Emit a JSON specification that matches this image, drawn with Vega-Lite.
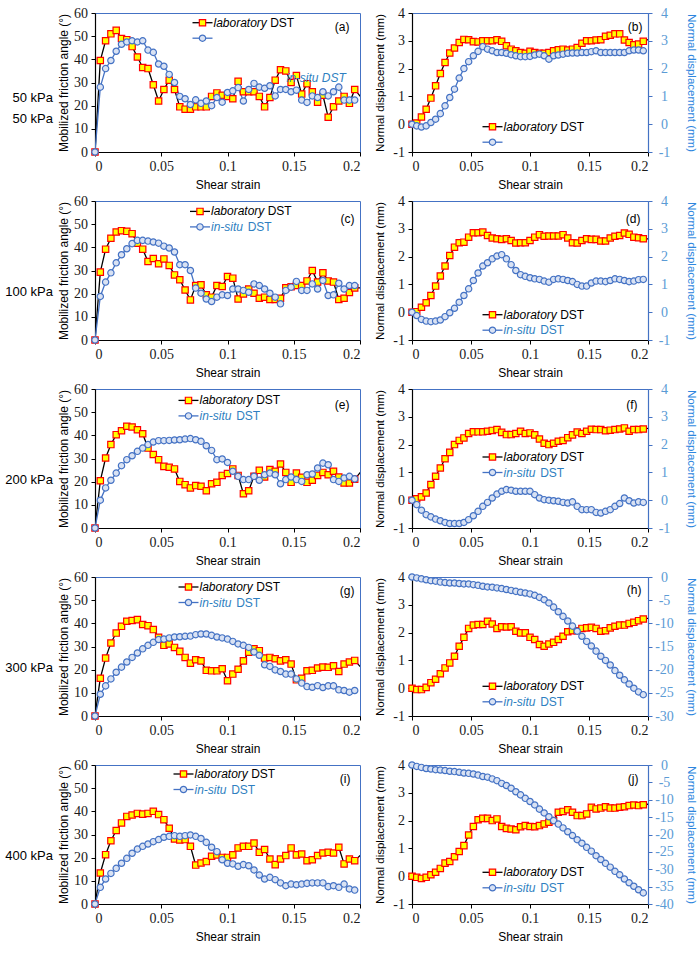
{
  "$schema": "https://vega.github.io/schema/vega-lite/v6.json",
  "background": "white",
  "padding": {"left": 5, "top": 5, "right": 2, "bottom": 2},
  "datasets": {
    "a": [
      {"x":0,"s":"lab","v":0},{"x":0.004,"s":"lab","v":39.5},{"x":0.008,"s":"lab","v":48},{"x":0.012,"s":"lab","v":51},{"x":0.016,"s":"lab","v":52.5},{"x":0.02,"s":"lab","v":49},{"x":0.024,"s":"lab","v":48.5},{"x":0.028,"s":"lab","v":45.5},{"x":0.032,"s":"lab","v":41},{"x":0.036,"s":"lab","v":36.5},
      {"x":0.04,"s":"lab","v":36},{"x":0.044,"s":"lab","v":29},{"x":0.048,"s":"lab","v":22},{"x":0.052,"s":"lab","v":27},{"x":0.056,"s":"lab","v":31},{"x":0.06,"s":"lab","v":27},{"x":0.064,"s":"lab","v":19.5},{"x":0.068,"s":"lab","v":18.5},{"x":0.072,"s":"lab","v":18.5},{"x":0.076,"s":"lab","v":19.5},
      {"x":0.08,"s":"lab","v":19.5},{"x":0.084,"s":"lab","v":19.5},{"x":0.088,"s":"lab","v":24},{"x":0.092,"s":"lab","v":25.5},{"x":0.096,"s":"lab","v":24.5},{"x":0.1,"s":"lab","v":24},{"x":0.104,"s":"lab","v":23},{"x":0.108,"s":"lab","v":30.5},{"x":0.112,"s":"lab","v":26},{"x":0.116,"s":"lab","v":26},
      {"x":0.12,"s":"lab","v":26},{"x":0.124,"s":"lab","v":24},{"x":0.128,"s":"lab","v":19.5},{"x":0.132,"s":"lab","v":23.5},{"x":0.136,"s":"lab","v":31},{"x":0.14,"s":"lab","v":35.5},{"x":0.144,"s":"lab","v":35},{"x":0.148,"s":"lab","v":30},{"x":0.152,"s":"lab","v":33},{"x":0.156,"s":"lab","v":25},
      {"x":0.16,"s":"lab","v":29.5},{"x":0.164,"s":"lab","v":26},{"x":0.168,"s":"lab","v":21.5},{"x":0.172,"s":"lab","v":24.5},{"x":0.176,"s":"lab","v":15},{"x":0.18,"s":"lab","v":19.5},{"x":0.184,"s":"lab","v":22},{"x":0.188,"s":"lab","v":24},{"x":0.192,"s":"lab","v":21},{"x":0.196,"s":"lab","v":27},{"x":0.203,"s":"lab","v":22},
      {"x":0,"s":"situ","v":0},{"x":0.004,"s":"situ","v":28},{"x":0.008,"s":"situ","v":36},{"x":0.012,"s":"situ","v":39.5},{"x":0.016,"s":"situ","v":43.5},{"x":0.02,"s":"situ","v":46.5},{"x":0.024,"s":"situ","v":47.5},{"x":0.028,"s":"situ","v":48},{"x":0.032,"s":"situ","v":47.5},{"x":0.036,"s":"situ","v":48},
      {"x":0.04,"s":"situ","v":44},{"x":0.044,"s":"situ","v":43},{"x":0.048,"s":"situ","v":38},{"x":0.052,"s":"situ","v":37},{"x":0.056,"s":"situ","v":33.5},{"x":0.06,"s":"situ","v":30},{"x":0.064,"s":"situ","v":24},{"x":0.068,"s":"situ","v":23},{"x":0.072,"s":"situ","v":20.5},{"x":0.076,"s":"situ","v":22.5},
      {"x":0.08,"s":"situ","v":21},{"x":0.084,"s":"situ","v":22},{"x":0.088,"s":"situ","v":20},{"x":0.092,"s":"situ","v":23.5},{"x":0.096,"s":"situ","v":21.5},{"x":0.1,"s":"situ","v":25.7},{"x":0.104,"s":"situ","v":26.4},{"x":0.108,"s":"situ","v":27.8},{"x":0.112,"s":"situ","v":22},{"x":0.116,"s":"situ","v":27},
      {"x":0.12,"s":"situ","v":29.6},{"x":0.124,"s":"situ","v":28},{"x":0.128,"s":"situ","v":27.5},{"x":0.132,"s":"situ","v":28.6},{"x":0.136,"s":"situ","v":24.2},{"x":0.14,"s":"situ","v":27},{"x":0.144,"s":"situ","v":27},{"x":0.148,"s":"situ","v":26},{"x":0.152,"s":"situ","v":26.7},{"x":0.156,"s":"situ","v":22.4},
      {"x":0.16,"s":"situ","v":21.4},{"x":0.164,"s":"situ","v":24.2},{"x":0.168,"s":"situ","v":23.5},{"x":0.172,"s":"situ","v":26},{"x":0.176,"s":"situ","v":24.2},{"x":0.18,"s":"situ","v":26},{"x":0.184,"s":"situ","v":28},{"x":0.188,"s":"situ","v":22.4},{"x":0.192,"s":"situ","v":22.4},{"x":0.196,"s":"situ","v":22.4}
    ],
    "b": [
      {"x":0,"s":"lab","v":0},{"x":0.004,"s":"lab","v":0.04},{"x":0.008,"s":"lab","v":0.26},{"x":0.012,"s":"lab","v":0.54},{"x":0.016,"s":"lab","v":0.94},{"x":0.02,"s":"lab","v":1.38},{"x":0.024,"s":"lab","v":1.82},{"x":0.028,"s":"lab","v":2.22},{"x":0.032,"s":"lab","v":2.56},{"x":0.036,"s":"lab","v":2.74},
      {"x":0.04,"s":"lab","v":2.94},{"x":0.044,"s":"lab","v":3.05},{"x":0.048,"s":"lab","v":3.04},{"x":0.052,"s":"lab","v":2.97},{"x":0.056,"s":"lab","v":2.96},{"x":0.06,"s":"lab","v":3.0},{"x":0.064,"s":"lab","v":3.0},{"x":0.068,"s":"lab","v":3.0},{"x":0.072,"s":"lab","v":3.04},{"x":0.076,"s":"lab","v":2.98},
      {"x":0.08,"s":"lab","v":2.82},{"x":0.084,"s":"lab","v":2.7},{"x":0.088,"s":"lab","v":2.64},{"x":0.092,"s":"lab","v":2.58},{"x":0.096,"s":"lab","v":2.55},{"x":0.1,"s":"lab","v":2.62},{"x":0.104,"s":"lab","v":2.58},{"x":0.108,"s":"lab","v":2.55},{"x":0.112,"s":"lab","v":2.55},{"x":0.116,"s":"lab","v":2.58},
      {"x":0.12,"s":"lab","v":2.64},{"x":0.124,"s":"lab","v":2.68},{"x":0.128,"s":"lab","v":2.7},{"x":0.132,"s":"lab","v":2.67},{"x":0.136,"s":"lab","v":2.7},{"x":0.14,"s":"lab","v":2.76},{"x":0.144,"s":"lab","v":2.91},{"x":0.148,"s":"lab","v":3.0},{"x":0.152,"s":"lab","v":3.0},{"x":0.156,"s":"lab","v":3.03},
      {"x":0.16,"s":"lab","v":3.04},{"x":0.164,"s":"lab","v":3.16},{"x":0.168,"s":"lab","v":3.2},{"x":0.172,"s":"lab","v":3.25},{"x":0.176,"s":"lab","v":3.25},{"x":0.18,"s":"lab","v":3.03},{"x":0.184,"s":"lab","v":2.94},{"x":0.188,"s":"lab","v":2.86},{"x":0.192,"s":"lab","v":2.88},{"x":0.196,"s":"lab","v":2.98},{"x":0.203,"s":"lab","v":3.09},
      {"x":0,"s":"situ","v":0},{"x":0.004,"s":"situ","v":-0.06},{"x":0.008,"s":"situ","v":-0.1},{"x":0.012,"s":"situ","v":-0.06},{"x":0.016,"s":"situ","v":0.06},{"x":0.02,"s":"situ","v":0.18},{"x":0.024,"s":"situ","v":0.38},{"x":0.028,"s":"situ","v":0.66},{"x":0.032,"s":"situ","v":0.96},{"x":0.036,"s":"situ","v":1.26},
      {"x":0.04,"s":"situ","v":1.66},{"x":0.044,"s":"situ","v":2.0},{"x":0.048,"s":"situ","v":2.25},{"x":0.052,"s":"situ","v":2.46},{"x":0.056,"s":"situ","v":2.62},{"x":0.06,"s":"situ","v":2.79},{"x":0.064,"s":"situ","v":2.7},{"x":0.068,"s":"situ","v":2.64},{"x":0.072,"s":"situ","v":2.58},{"x":0.076,"s":"situ","v":2.58},
      {"x":0.08,"s":"situ","v":2.55},{"x":0.084,"s":"situ","v":2.5},{"x":0.088,"s":"situ","v":2.46},{"x":0.092,"s":"situ","v":2.43},{"x":0.096,"s":"situ","v":2.43},{"x":0.1,"s":"situ","v":2.44},{"x":0.104,"s":"situ","v":2.49},{"x":0.108,"s":"situ","v":2.52},{"x":0.112,"s":"situ","v":2.46},{"x":0.116,"s":"situ","v":2.34},
      {"x":0.12,"s":"situ","v":2.46},{"x":0.124,"s":"situ","v":2.49},{"x":0.128,"s":"situ","v":2.52},{"x":0.132,"s":"situ","v":2.55},{"x":0.136,"s":"situ","v":2.56},{"x":0.14,"s":"situ","v":2.56},{"x":0.144,"s":"situ","v":2.58},{"x":0.148,"s":"situ","v":2.58},{"x":0.152,"s":"situ","v":2.61},{"x":0.156,"s":"situ","v":2.64},
      {"x":0.16,"s":"situ","v":2.58},{"x":0.164,"s":"situ","v":2.58},{"x":0.168,"s":"situ","v":2.58},{"x":0.172,"s":"situ","v":2.58},{"x":0.176,"s":"situ","v":2.58},{"x":0.18,"s":"situ","v":2.58},{"x":0.184,"s":"situ","v":2.64},{"x":0.188,"s":"situ","v":2.67},{"x":0.192,"s":"situ","v":2.67},{"x":0.196,"s":"situ","v":2.64}
    ],
    "c": [
      {"x":0,"s":"lab","v":0},{"x":0.004,"s":"lab","v":29.3},{"x":0.008,"s":"lab","v":39.2},{"x":0.012,"s":"lab","v":43.9},{"x":0.016,"s":"lab","v":46.6},{"x":0.02,"s":"lab","v":47.2},{"x":0.024,"s":"lab","v":46.9},{"x":0.028,"s":"lab","v":45.9},{"x":0.032,"s":"lab","v":41.8},{"x":0.036,"s":"lab","v":39.2},
      {"x":0.04,"s":"lab","v":33.9},{"x":0.044,"s":"lab","v":35.2},{"x":0.048,"s":"lab","v":32.9},{"x":0.052,"s":"lab","v":35},{"x":0.056,"s":"lab","v":32.2},{"x":0.06,"s":"lab","v":28.1},{"x":0.064,"s":"lab","v":26},{"x":0.068,"s":"lab","v":21.6},{"x":0.072,"s":"lab","v":17.3},{"x":0.076,"s":"lab","v":23.5},
      {"x":0.08,"s":"lab","v":23.8},{"x":0.084,"s":"lab","v":19.5},{"x":0.088,"s":"lab","v":18.5},{"x":0.092,"s":"lab","v":23.5},{"x":0.096,"s":"lab","v":23.1},{"x":0.1,"s":"lab","v":27.4},{"x":0.104,"s":"lab","v":26.7},{"x":0.108,"s":"lab","v":17.7},{"x":0.112,"s":"lab","v":19.9},{"x":0.116,"s":"lab","v":22},
      {"x":0.12,"s":"lab","v":20.2},{"x":0.124,"s":"lab","v":18},{"x":0.128,"s":"lab","v":18.5},{"x":0.132,"s":"lab","v":17.5},{"x":0.136,"s":"lab","v":17.5},{"x":0.14,"s":"lab","v":18},{"x":0.144,"s":"lab","v":22.5},{"x":0.148,"s":"lab","v":23},{"x":0.152,"s":"lab","v":23.5},{"x":0.156,"s":"lab","v":23.5},
      {"x":0.16,"s":"lab","v":25.5},{"x":0.164,"s":"lab","v":30},{"x":0.168,"s":"lab","v":25},{"x":0.172,"s":"lab","v":29},{"x":0.176,"s":"lab","v":25.5},{"x":0.18,"s":"lab","v":25},{"x":0.184,"s":"lab","v":17.5},{"x":0.188,"s":"lab","v":18},{"x":0.192,"s":"lab","v":20.5},{"x":0.196,"s":"lab","v":22.5},{"x":0.203,"s":"lab","v":22.5},
      {"x":0,"s":"situ","v":0},{"x":0.004,"s":"situ","v":18.8},{"x":0.008,"s":"situ","v":25},{"x":0.012,"s":"situ","v":29},{"x":0.016,"s":"situ","v":33.3},{"x":0.02,"s":"situ","v":36.8},{"x":0.024,"s":"situ","v":39.4},{"x":0.028,"s":"situ","v":41.6},{"x":0.032,"s":"situ","v":43},{"x":0.036,"s":"situ","v":43},
      {"x":0.04,"s":"situ","v":42.7},{"x":0.044,"s":"situ","v":42.3},{"x":0.048,"s":"situ","v":41.8},{"x":0.052,"s":"situ","v":40.5},{"x":0.056,"s":"situ","v":39.7},{"x":0.06,"s":"situ","v":38},{"x":0.064,"s":"situ","v":32.5},{"x":0.068,"s":"situ","v":32.5},{"x":0.072,"s":"situ","v":30},{"x":0.076,"s":"situ","v":22.4},
      {"x":0.08,"s":"situ","v":20.2},{"x":0.084,"s":"situ","v":17.7},{"x":0.088,"s":"situ","v":16.6},{"x":0.092,"s":"situ","v":18.5},{"x":0.096,"s":"situ","v":19.5},{"x":0.1,"s":"situ","v":19.2},{"x":0.104,"s":"situ","v":22},{"x":0.108,"s":"situ","v":22},{"x":0.112,"s":"situ","v":21.4},{"x":0.116,"s":"situ","v":20.6},
      {"x":0.12,"s":"situ","v":24.2},{"x":0.124,"s":"situ","v":23.5},{"x":0.128,"s":"situ","v":22},{"x":0.132,"s":"situ","v":20.2},{"x":0.136,"s":"situ","v":18.5},{"x":0.14,"s":"situ","v":15.6},{"x":0.144,"s":"situ","v":21.4},{"x":0.148,"s":"situ","v":22.8},{"x":0.152,"s":"situ","v":25.3},{"x":0.156,"s":"situ","v":21.4},
      {"x":0.16,"s":"situ","v":21.4},{"x":0.164,"s":"situ","v":24.2},{"x":0.168,"s":"situ","v":22},{"x":0.172,"s":"situ","v":25.7},{"x":0.176,"s":"situ","v":19.2},{"x":0.18,"s":"situ","v":19.5},{"x":0.184,"s":"situ","v":24.5},{"x":0.188,"s":"situ","v":22},{"x":0.192,"s":"situ","v":23.5},{"x":0.196,"s":"situ","v":23.5}
    ],
    "d": [
      {"x":0,"s":"lab","v":0},{"x":0.004,"s":"lab","v":0.02},{"x":0.008,"s":"lab","v":0.18},{"x":0.012,"s":"lab","v":0.34},{"x":0.016,"s":"lab","v":0.6},{"x":0.02,"s":"lab","v":0.94},{"x":0.024,"s":"lab","v":1.3},{"x":0.028,"s":"lab","v":1.66},{"x":0.032,"s":"lab","v":2.04},{"x":0.036,"s":"lab","v":2.34},
      {"x":0.04,"s":"lab","v":2.5},{"x":0.044,"s":"lab","v":2.52},{"x":0.048,"s":"lab","v":2.7},{"x":0.052,"s":"lab","v":2.86},{"x":0.056,"s":"lab","v":2.86},{"x":0.06,"s":"lab","v":2.88},{"x":0.064,"s":"lab","v":2.76},{"x":0.068,"s":"lab","v":2.67},{"x":0.072,"s":"lab","v":2.64},{"x":0.076,"s":"lab","v":2.62},
      {"x":0.08,"s":"lab","v":2.64},{"x":0.084,"s":"lab","v":2.58},{"x":0.088,"s":"lab","v":2.49},{"x":0.092,"s":"lab","v":2.5},{"x":0.096,"s":"lab","v":2.5},{"x":0.1,"s":"lab","v":2.58},{"x":0.104,"s":"lab","v":2.7},{"x":0.108,"s":"lab","v":2.79},{"x":0.112,"s":"lab","v":2.73},{"x":0.116,"s":"lab","v":2.74},
      {"x":0.12,"s":"lab","v":2.74},{"x":0.124,"s":"lab","v":2.74},{"x":0.128,"s":"lab","v":2.79},{"x":0.132,"s":"lab","v":2.67},{"x":0.136,"s":"lab","v":2.5},{"x":0.14,"s":"lab","v":2.49},{"x":0.144,"s":"lab","v":2.58},{"x":0.148,"s":"lab","v":2.64},{"x":0.152,"s":"lab","v":2.62},{"x":0.156,"s":"lab","v":2.62},
      {"x":0.16,"s":"lab","v":2.56},{"x":0.164,"s":"lab","v":2.56},{"x":0.168,"s":"lab","v":2.67},{"x":0.172,"s":"lab","v":2.73},{"x":0.176,"s":"lab","v":2.76},{"x":0.18,"s":"lab","v":2.85},{"x":0.184,"s":"lab","v":2.8},{"x":0.188,"s":"lab","v":2.7},{"x":0.192,"s":"lab","v":2.68},{"x":0.196,"s":"lab","v":2.64},{"x":0.203,"s":"lab","v":2.63},
      {"x":0,"s":"situ","v":0},{"x":0.004,"s":"situ","v":-0.12},{"x":0.008,"s":"situ","v":-0.26},{"x":0.012,"s":"situ","v":-0.32},{"x":0.016,"s":"situ","v":-0.34},{"x":0.02,"s":"situ","v":-0.32},{"x":0.024,"s":"situ","v":-0.28},{"x":0.028,"s":"situ","v":-0.16},{"x":0.032,"s":"situ","v":-0.02},{"x":0.036,"s":"situ","v":0.14},
      {"x":0.04,"s":"situ","v":0.36},{"x":0.044,"s":"situ","v":0.6},{"x":0.048,"s":"situ","v":0.84},{"x":0.052,"s":"situ","v":1.14},{"x":0.056,"s":"situ","v":1.41},{"x":0.06,"s":"situ","v":1.66},{"x":0.064,"s":"situ","v":1.78},{"x":0.068,"s":"situ","v":1.92},{"x":0.072,"s":"situ","v":2.02},{"x":0.076,"s":"situ","v":2.07},
      {"x":0.08,"s":"situ","v":1.92},{"x":0.084,"s":"situ","v":1.71},{"x":0.088,"s":"situ","v":1.5},{"x":0.092,"s":"situ","v":1.35},{"x":0.096,"s":"situ","v":1.29},{"x":0.1,"s":"situ","v":1.24},{"x":0.104,"s":"situ","v":1.2},{"x":0.108,"s":"situ","v":1.18},{"x":0.112,"s":"situ","v":1.12},{"x":0.116,"s":"situ","v":1.08},
      {"x":0.12,"s":"situ","v":1.18},{"x":0.124,"s":"situ","v":1.2},{"x":0.128,"s":"situ","v":1.18},{"x":0.132,"s":"situ","v":1.14},{"x":0.136,"s":"situ","v":1.1},{"x":0.14,"s":"situ","v":1.0},{"x":0.144,"s":"situ","v":0.94},{"x":0.148,"s":"situ","v":0.94},{"x":0.152,"s":"situ","v":1.05},{"x":0.156,"s":"situ","v":1.12},
      {"x":0.16,"s":"situ","v":1.12},{"x":0.164,"s":"situ","v":1.1},{"x":0.168,"s":"situ","v":1.14},{"x":0.172,"s":"situ","v":1.2},{"x":0.176,"s":"situ","v":1.18},{"x":0.18,"s":"situ","v":1.14},{"x":0.184,"s":"situ","v":1.1},{"x":0.188,"s":"situ","v":1.12},{"x":0.192,"s":"situ","v":1.17},{"x":0.196,"s":"situ","v":1.18}
    ],
    "e": [
      {"x":0,"s":"lab","v":0},{"x":0.004,"s":"lab","v":20.4},{"x":0.008,"s":"lab","v":30.2},{"x":0.012,"s":"lab","v":36},{"x":0.016,"s":"lab","v":40.3},{"x":0.02,"s":"lab","v":42},{"x":0.024,"s":"lab","v":43.9},{"x":0.028,"s":"lab","v":43.6},{"x":0.032,"s":"lab","v":42.4},{"x":0.036,"s":"lab","v":40.7},
      {"x":0.04,"s":"lab","v":34.5},{"x":0.044,"s":"lab","v":31.7},{"x":0.048,"s":"lab","v":29.5},{"x":0.052,"s":"lab","v":26.6},{"x":0.056,"s":"lab","v":26.2},{"x":0.06,"s":"lab","v":25.5},{"x":0.064,"s":"lab","v":20.1},{"x":0.068,"s":"lab","v":18.7},{"x":0.072,"s":"lab","v":17.3},{"x":0.076,"s":"lab","v":18.3},
      {"x":0.08,"s":"lab","v":18},{"x":0.084,"s":"lab","v":16.1},{"x":0.088,"s":"lab","v":19.1},{"x":0.092,"s":"lab","v":19.7},{"x":0.096,"s":"lab","v":22.7},{"x":0.1,"s":"lab","v":23.5},{"x":0.104,"s":"lab","v":25.5},{"x":0.108,"s":"lab","v":22.7},{"x":0.112,"s":"lab","v":14.8},{"x":0.116,"s":"lab","v":16.1},
      {"x":0.12,"s":"lab","v":22.3},{"x":0.124,"s":"lab","v":24.9},{"x":0.128,"s":"lab","v":22},{"x":0.132,"s":"lab","v":25.2},{"x":0.136,"s":"lab","v":24.5},{"x":0.14,"s":"lab","v":27.6},{"x":0.144,"s":"lab","v":24},{"x":0.148,"s":"lab","v":19.7},{"x":0.152,"s":"lab","v":23.7},{"x":0.156,"s":"lab","v":21.9},
      {"x":0.16,"s":"lab","v":19.7},{"x":0.164,"s":"lab","v":20.6},{"x":0.168,"s":"lab","v":22.7},{"x":0.172,"s":"lab","v":24},{"x":0.176,"s":"lab","v":23},{"x":0.18,"s":"lab","v":24.5},{"x":0.184,"s":"lab","v":22},{"x":0.188,"s":"lab","v":19.4},{"x":0.192,"s":"lab","v":19.4},{"x":0.196,"s":"lab","v":21},{"x":0.203,"s":"lab","v":26},
      {"x":0,"s":"situ","v":0},{"x":0.004,"s":"situ","v":12},{"x":0.008,"s":"situ","v":17.3},{"x":0.012,"s":"situ","v":20.6},{"x":0.016,"s":"situ","v":23.7},{"x":0.02,"s":"situ","v":26.9},{"x":0.024,"s":"situ","v":29.5},{"x":0.028,"s":"situ","v":31.2},{"x":0.032,"s":"situ","v":33.1},{"x":0.036,"s":"situ","v":34.5},
      {"x":0.04,"s":"situ","v":36},{"x":0.044,"s":"situ","v":37.1},{"x":0.048,"s":"situ","v":37.7},{"x":0.052,"s":"situ","v":37.7},{"x":0.056,"s":"situ","v":37.8},{"x":0.06,"s":"situ","v":38},{"x":0.064,"s":"situ","v":38.1},{"x":0.068,"s":"situ","v":38.4},{"x":0.072,"s":"situ","v":38.6},{"x":0.076,"s":"situ","v":38.1},
      {"x":0.08,"s":"situ","v":37.4},{"x":0.084,"s":"situ","v":35.5},{"x":0.088,"s":"situ","v":33.5},{"x":0.092,"s":"situ","v":29.5},{"x":0.096,"s":"situ","v":29.8},{"x":0.1,"s":"situ","v":28.3},{"x":0.104,"s":"situ","v":24.5},{"x":0.108,"s":"situ","v":22.3},{"x":0.112,"s":"situ","v":20.9},{"x":0.116,"s":"situ","v":20.9},
      {"x":0.12,"s":"situ","v":22.3},{"x":0.124,"s":"situ","v":20.6},{"x":0.128,"s":"situ","v":23},{"x":0.132,"s":"situ","v":23.7},{"x":0.136,"s":"situ","v":23},{"x":0.14,"s":"situ","v":19.1},{"x":0.144,"s":"situ","v":20.9},{"x":0.148,"s":"situ","v":22},{"x":0.152,"s":"situ","v":20.9},{"x":0.156,"s":"situ","v":20.1},
      {"x":0.16,"s":"situ","v":23},{"x":0.164,"s":"situ","v":23.3},{"x":0.168,"s":"situ","v":25.9},{"x":0.172,"s":"situ","v":28},{"x":0.176,"s":"situ","v":27.3},{"x":0.18,"s":"situ","v":20.9},{"x":0.184,"s":"situ","v":20.1},{"x":0.188,"s":"situ","v":21.6},{"x":0.192,"s":"situ","v":22.3},{"x":0.196,"s":"situ","v":21.2}
    ],
    "f": [
      {"x":0,"s":"lab","v":0},{"x":0.004,"s":"lab","v":0.05},{"x":0.008,"s":"lab","v":0.12},{"x":0.012,"s":"lab","v":0.26},{"x":0.016,"s":"lab","v":0.56},{"x":0.02,"s":"lab","v":0.86},{"x":0.024,"s":"lab","v":1.16},{"x":0.028,"s":"lab","v":1.49},{"x":0.032,"s":"lab","v":1.72},{"x":0.036,"s":"lab","v":2.0},
      {"x":0.04,"s":"lab","v":2.15},{"x":0.044,"s":"lab","v":2.24},{"x":0.048,"s":"lab","v":2.4},{"x":0.052,"s":"lab","v":2.46},{"x":0.056,"s":"lab","v":2.46},{"x":0.06,"s":"lab","v":2.46},{"x":0.064,"s":"lab","v":2.48},{"x":0.068,"s":"lab","v":2.51},{"x":0.072,"s":"lab","v":2.54},{"x":0.076,"s":"lab","v":2.44},
      {"x":0.08,"s":"lab","v":2.36},{"x":0.084,"s":"lab","v":2.36},{"x":0.088,"s":"lab","v":2.4},{"x":0.092,"s":"lab","v":2.48},{"x":0.096,"s":"lab","v":2.4},{"x":0.1,"s":"lab","v":2.42},{"x":0.104,"s":"lab","v":2.35},{"x":0.108,"s":"lab","v":2.2},{"x":0.112,"s":"lab","v":2.05},{"x":0.116,"s":"lab","v":2.0},
      {"x":0.12,"s":"lab","v":2.05},{"x":0.124,"s":"lab","v":2.12},{"x":0.128,"s":"lab","v":2.15},{"x":0.132,"s":"lab","v":2.25},{"x":0.136,"s":"lab","v":2.35},{"x":0.14,"s":"lab","v":2.45},{"x":0.144,"s":"lab","v":2.4},{"x":0.148,"s":"lab","v":2.48},{"x":0.152,"s":"lab","v":2.55},{"x":0.156,"s":"lab","v":2.54},
      {"x":0.16,"s":"lab","v":2.54},{"x":0.164,"s":"lab","v":2.5},{"x":0.168,"s":"lab","v":2.52},{"x":0.172,"s":"lab","v":2.54},{"x":0.176,"s":"lab","v":2.56},{"x":0.18,"s":"lab","v":2.6},{"x":0.184,"s":"lab","v":2.48},{"x":0.188,"s":"lab","v":2.54},{"x":0.192,"s":"lab","v":2.54},{"x":0.196,"s":"lab","v":2.56},{"x":0.203,"s":"lab","v":2.6},
      {"x":0,"s":"situ","v":0},{"x":0.004,"s":"situ","v":-0.16},{"x":0.008,"s":"situ","v":-0.36},{"x":0.012,"s":"situ","v":-0.52},{"x":0.016,"s":"situ","v":-0.6},{"x":0.02,"s":"situ","v":-0.68},{"x":0.024,"s":"situ","v":-0.74},{"x":0.028,"s":"situ","v":-0.8},{"x":0.032,"s":"situ","v":-0.84},{"x":0.036,"s":"situ","v":-0.84},
      {"x":0.04,"s":"situ","v":-0.84},{"x":0.044,"s":"situ","v":-0.8},{"x":0.048,"s":"situ","v":-0.7},{"x":0.052,"s":"situ","v":-0.56},{"x":0.056,"s":"situ","v":-0.4},{"x":0.06,"s":"situ","v":-0.22},{"x":0.064,"s":"situ","v":-0.08},{"x":0.068,"s":"situ","v":0.08},{"x":0.072,"s":"situ","v":0.22},{"x":0.076,"s":"situ","v":0.32},
      {"x":0.08,"s":"situ","v":0.38},{"x":0.084,"s":"situ","v":0.36},{"x":0.088,"s":"situ","v":0.32},{"x":0.092,"s":"situ","v":0.32},{"x":0.096,"s":"situ","v":0.32},{"x":0.1,"s":"situ","v":0.32},{"x":0.104,"s":"situ","v":0.2},{"x":0.108,"s":"situ","v":0.08},{"x":0.112,"s":"situ","v":0.02},{"x":0.116,"s":"situ","v":0},
      {"x":0.12,"s":"situ","v":-0.02},{"x":0.124,"s":"situ","v":-0.04},{"x":0.128,"s":"situ","v":-0.08},{"x":0.132,"s":"situ","v":-0.1},{"x":0.136,"s":"situ","v":-0.06},{"x":0.14,"s":"situ","v":-0.22},{"x":0.144,"s":"situ","v":-0.34},{"x":0.148,"s":"situ","v":-0.34},{"x":0.152,"s":"situ","v":-0.34},{"x":0.156,"s":"situ","v":-0.44},
      {"x":0.16,"s":"situ","v":-0.46},{"x":0.164,"s":"situ","v":-0.4},{"x":0.168,"s":"situ","v":-0.34},{"x":0.172,"s":"situ","v":-0.22},{"x":0.176,"s":"situ","v":-0.12},{"x":0.18,"s":"situ","v":0.08},{"x":0.184,"s":"situ","v":-0.02},{"x":0.188,"s":"situ","v":-0.1},{"x":0.192,"s":"situ","v":-0.06},{"x":0.196,"s":"situ","v":-0.08}
    ],
    "g": [
      {"x":0,"s":"lab","v":0},{"x":0.004,"s":"lab","v":16.3},{"x":0.008,"s":"lab","v":25},{"x":0.012,"s":"lab","v":31.5},{"x":0.016,"s":"lab","v":35.8},{"x":0.02,"s":"lab","v":38.7},{"x":0.024,"s":"lab","v":40.9},{"x":0.028,"s":"lab","v":41.2},{"x":0.032,"s":"lab","v":41.6},{"x":0.036,"s":"lab","v":39.5},
      {"x":0.04,"s":"lab","v":39},{"x":0.044,"s":"lab","v":37.3},{"x":0.048,"s":"lab","v":34},{"x":0.052,"s":"lab","v":30.5},{"x":0.056,"s":"lab","v":31.1},{"x":0.06,"s":"lab","v":29.6},{"x":0.064,"s":"lab","v":27.9},{"x":0.068,"s":"lab","v":25.3},{"x":0.072,"s":"lab","v":22.8},{"x":0.076,"s":"lab","v":24.3},
      {"x":0.08,"s":"lab","v":23.8},{"x":0.084,"s":"lab","v":19.7},{"x":0.088,"s":"lab","v":19.5},{"x":0.092,"s":"lab","v":19.5},{"x":0.096,"s":"lab","v":20.4},{"x":0.1,"s":"lab","v":15.2},{"x":0.104,"s":"lab","v":18.1},{"x":0.108,"s":"lab","v":20.2},{"x":0.112,"s":"lab","v":23.8},{"x":0.116,"s":"lab","v":27.5},
      {"x":0.12,"s":"lab","v":29},{"x":0.124,"s":"lab","v":28.2},{"x":0.128,"s":"lab","v":25},{"x":0.132,"s":"lab","v":25.3},{"x":0.136,"s":"lab","v":24.7},{"x":0.14,"s":"lab","v":23.8},{"x":0.144,"s":"lab","v":24.3},{"x":0.148,"s":"lab","v":22.4},{"x":0.152,"s":"lab","v":15.6},{"x":0.156,"s":"lab","v":16.3},
      {"x":0.16,"s":"lab","v":19.5},{"x":0.164,"s":"lab","v":19.7},{"x":0.168,"s":"lab","v":20.7},{"x":0.172,"s":"lab","v":21.1},{"x":0.176,"s":"lab","v":21},{"x":0.18,"s":"lab","v":21.7},{"x":0.184,"s":"lab","v":19.2},{"x":0.188,"s":"lab","v":22.4},{"x":0.192,"s":"lab","v":23.3},{"x":0.196,"s":"lab","v":24},{"x":0.203,"s":"lab","v":19.5},
      {"x":0,"s":"situ","v":0},{"x":0.004,"s":"situ","v":9.4},{"x":0.008,"s":"situ","v":13},{"x":0.012,"s":"situ","v":16},{"x":0.016,"s":"situ","v":18.9},{"x":0.02,"s":"situ","v":21.1},{"x":0.024,"s":"situ","v":23.3},{"x":0.028,"s":"situ","v":25.3},{"x":0.032,"s":"situ","v":27.2},{"x":0.036,"s":"situ","v":29},
      {"x":0.04,"s":"situ","v":30.5},{"x":0.044,"s":"situ","v":31.8},{"x":0.048,"s":"situ","v":33},{"x":0.052,"s":"situ","v":33.2},{"x":0.056,"s":"situ","v":33.7},{"x":0.06,"s":"situ","v":34.1},{"x":0.064,"s":"situ","v":34.2},{"x":0.068,"s":"situ","v":34.4},{"x":0.072,"s":"situ","v":34.5},{"x":0.076,"s":"situ","v":35.1},
      {"x":0.08,"s":"situ","v":35.4},{"x":0.084,"s":"situ","v":35.4},{"x":0.088,"s":"situ","v":34.8},{"x":0.092,"s":"situ","v":34.1},{"x":0.096,"s":"situ","v":33.7},{"x":0.1,"s":"situ","v":33.2},{"x":0.104,"s":"situ","v":32.2},{"x":0.108,"s":"situ","v":31.1},{"x":0.112,"s":"situ","v":30.5},{"x":0.116,"s":"situ","v":29.6},
      {"x":0.12,"s":"situ","v":27.6},{"x":0.124,"s":"situ","v":26.2},{"x":0.128,"s":"situ","v":22.1},{"x":0.132,"s":"situ","v":21.4},{"x":0.136,"s":"situ","v":19.9},{"x":0.14,"s":"situ","v":19.2},{"x":0.144,"s":"situ","v":18.1},{"x":0.148,"s":"situ","v":18.1},{"x":0.152,"s":"situ","v":16},{"x":0.156,"s":"situ","v":14.2},
      {"x":0.16,"s":"situ","v":12.7},{"x":0.164,"s":"situ","v":12.4},{"x":0.168,"s":"situ","v":13.1},{"x":0.172,"s":"situ","v":12.3},{"x":0.176,"s":"situ","v":13},{"x":0.18,"s":"situ","v":13},{"x":0.184,"s":"situ","v":11.3},{"x":0.188,"s":"situ","v":11},{"x":0.192,"s":"situ","v":10.3},{"x":0.196,"s":"situ","v":11}
    ],
    "h": [
      {"x":0,"s":"lab","v":0},{"x":0.004,"s":"lab","v":-0.05},{"x":0.008,"s":"lab","v":-0.05},{"x":0.012,"s":"lab","v":0.03},{"x":0.016,"s":"lab","v":0.2},{"x":0.02,"s":"lab","v":0.32},{"x":0.024,"s":"lab","v":0.52},{"x":0.028,"s":"lab","v":0.73},{"x":0.032,"s":"lab","v":0.91},{"x":0.036,"s":"lab","v":1.15},
      {"x":0.04,"s":"lab","v":1.51},{"x":0.044,"s":"lab","v":1.83},{"x":0.048,"s":"lab","v":2.15},{"x":0.052,"s":"lab","v":2.27},{"x":0.056,"s":"lab","v":2.29},{"x":0.06,"s":"lab","v":2.29},{"x":0.064,"s":"lab","v":2.41},{"x":0.068,"s":"lab","v":2.31},{"x":0.072,"s":"lab","v":2.15},{"x":0.076,"s":"lab","v":2.21},
      {"x":0.08,"s":"lab","v":2.2},{"x":0.084,"s":"lab","v":2.21},{"x":0.088,"s":"lab","v":2.05},{"x":0.092,"s":"lab","v":1.99},{"x":0.096,"s":"lab","v":1.99},{"x":0.1,"s":"lab","v":1.83},{"x":0.104,"s":"lab","v":1.75},{"x":0.108,"s":"lab","v":1.57},{"x":0.112,"s":"lab","v":1.51},{"x":0.116,"s":"lab","v":1.59},
      {"x":0.12,"s":"lab","v":1.65},{"x":0.124,"s":"lab","v":1.75},{"x":0.128,"s":"lab","v":1.87},{"x":0.132,"s":"lab","v":2.03},{"x":0.136,"s":"lab","v":2.07},{"x":0.14,"s":"lab","v":2.07},{"x":0.144,"s":"lab","v":2.15},{"x":0.148,"s":"lab","v":2.17},{"x":0.152,"s":"lab","v":2.19},{"x":0.156,"s":"lab","v":2.15},
      {"x":0.16,"s":"lab","v":2.05},{"x":0.164,"s":"lab","v":2.07},{"x":0.168,"s":"lab","v":2.17},{"x":0.172,"s":"lab","v":2.23},{"x":0.176,"s":"lab","v":2.27},{"x":0.18,"s":"lab","v":2.27},{"x":0.184,"s":"lab","v":2.33},{"x":0.188,"s":"lab","v":2.37},{"x":0.192,"s":"lab","v":2.43},{"x":0.196,"s":"lab","v":2.49},{"x":0.203,"s":"lab","v":2.53},
      {"x":0,"s":"situ","v":0},{"x":0.004,"s":"situ","v":-0.2},{"x":0.008,"s":"situ","v":-0.4},{"x":0.012,"s":"situ","v":-0.6},{"x":0.016,"s":"situ","v":-0.8},{"x":0.02,"s":"situ","v":-0.9},{"x":0.024,"s":"situ","v":-1.1},{"x":0.028,"s":"situ","v":-1.2},{"x":0.032,"s":"situ","v":-1.3},{"x":0.036,"s":"situ","v":-1.3},
      {"x":0.04,"s":"situ","v":-1.4},{"x":0.044,"s":"situ","v":-1.5},{"x":0.048,"s":"situ","v":-1.5},{"x":0.052,"s":"situ","v":-1.65},{"x":0.056,"s":"situ","v":-1.8},{"x":0.06,"s":"situ","v":-2.0},{"x":0.064,"s":"situ","v":-2.15},{"x":0.068,"s":"situ","v":-2.2},{"x":0.072,"s":"situ","v":-2.35},{"x":0.076,"s":"situ","v":-2.5},
      {"x":0.08,"s":"situ","v":-2.7},{"x":0.084,"s":"situ","v":-2.9},{"x":0.088,"s":"situ","v":-3.1},{"x":0.092,"s":"situ","v":-3.3},{"x":0.096,"s":"situ","v":-3.45},{"x":0.1,"s":"situ","v":-3.65},{"x":0.104,"s":"situ","v":-3.95},{"x":0.108,"s":"situ","v":-4.4},{"x":0.112,"s":"situ","v":-4.9},{"x":0.116,"s":"situ","v":-5.6},
      {"x":0.12,"s":"situ","v":-6.5},{"x":0.124,"s":"situ","v":-7.5},{"x":0.128,"s":"situ","v":-8.5},{"x":0.132,"s":"situ","v":-9.5},{"x":0.136,"s":"situ","v":-10.6},{"x":0.14,"s":"situ","v":-11.7},{"x":0.144,"s":"situ","v":-12.8},{"x":0.148,"s":"situ","v":-13.9},{"x":0.152,"s":"situ","v":-14.9},{"x":0.156,"s":"situ","v":-16},
      {"x":0.16,"s":"situ","v":-17.1},{"x":0.164,"s":"situ","v":-18},{"x":0.168,"s":"situ","v":-19},{"x":0.172,"s":"situ","v":-20.2},{"x":0.176,"s":"situ","v":-21.2},{"x":0.18,"s":"situ","v":-22.2},{"x":0.184,"s":"situ","v":-23.1},{"x":0.188,"s":"situ","v":-24},{"x":0.192,"s":"situ","v":-24.8},{"x":0.196,"s":"situ","v":-25.4}
    ],
    "i": [
      {"x":0,"s":"lab","v":0},{"x":0.004,"s":"lab","v":13.4},{"x":0.008,"s":"lab","v":21.3},{"x":0.012,"s":"lab","v":27.3},{"x":0.016,"s":"lab","v":31.7},{"x":0.02,"s":"lab","v":35},{"x":0.024,"s":"lab","v":37.8},{"x":0.028,"s":"lab","v":38.4},{"x":0.032,"s":"lab","v":39.1},{"x":0.036,"s":"lab","v":38.8},
      {"x":0.04,"s":"lab","v":39.1},{"x":0.044,"s":"lab","v":40},{"x":0.048,"s":"lab","v":38.6},{"x":0.052,"s":"lab","v":36.4},{"x":0.056,"s":"lab","v":32.7},{"x":0.06,"s":"lab","v":28.1},{"x":0.064,"s":"lab","v":27.6},{"x":0.068,"s":"lab","v":27.8},{"x":0.072,"s":"lab","v":24.9},{"x":0.076,"s":"lab","v":16.8},
      {"x":0.08,"s":"lab","v":17.7},{"x":0.084,"s":"lab","v":18.3},{"x":0.088,"s":"lab","v":20.6},{"x":0.092,"s":"lab","v":21.2},{"x":0.096,"s":"lab","v":20.1},{"x":0.1,"s":"lab","v":20.1},{"x":0.104,"s":"lab","v":21.2},{"x":0.108,"s":"lab","v":24.2},{"x":0.112,"s":"lab","v":24.9},{"x":0.116,"s":"lab","v":24.9},
      {"x":0.12,"s":"lab","v":26.3},{"x":0.124,"s":"lab","v":22.3},{"x":0.128,"s":"lab","v":23.5},{"x":0.132,"s":"lab","v":19.4},{"x":0.136,"s":"lab","v":17},{"x":0.14,"s":"lab","v":19.4},{"x":0.144,"s":"lab","v":20.9},{"x":0.148,"s":"lab","v":24.2},{"x":0.152,"s":"lab","v":21.2},{"x":0.156,"s":"lab","v":21.6},
      {"x":0.16,"s":"lab","v":18.7},{"x":0.164,"s":"lab","v":19.1},{"x":0.168,"s":"lab","v":20.9},{"x":0.172,"s":"lab","v":22},{"x":0.176,"s":"lab","v":22.3},{"x":0.18,"s":"lab","v":22},{"x":0.184,"s":"lab","v":24.5},{"x":0.188,"s":"lab","v":17.3},{"x":0.192,"s":"lab","v":19.4},{"x":0.196,"s":"lab","v":18.7},{"x":0.203,"s":"lab","v":22.5},
      {"x":0,"s":"situ","v":0},{"x":0.004,"s":"situ","v":7.2},{"x":0.008,"s":"situ","v":10.8},{"x":0.012,"s":"situ","v":13.2},{"x":0.016,"s":"situ","v":15.4},{"x":0.02,"s":"situ","v":17.6},{"x":0.024,"s":"situ","v":19.7},{"x":0.028,"s":"situ","v":21.9},{"x":0.032,"s":"situ","v":23.7},{"x":0.036,"s":"situ","v":24.9},
      {"x":0.04,"s":"situ","v":25.9},{"x":0.044,"s":"situ","v":26.9},{"x":0.048,"s":"situ","v":27.8},{"x":0.052,"s":"situ","v":28.8},{"x":0.056,"s":"situ","v":29.2},{"x":0.06,"s":"situ","v":29.5},{"x":0.064,"s":"situ","v":29.2},{"x":0.068,"s":"situ","v":29.5},{"x":0.072,"s":"situ","v":29.8},{"x":0.076,"s":"situ","v":29.2},
      {"x":0.08,"s":"situ","v":28.3},{"x":0.084,"s":"situ","v":26.6},{"x":0.088,"s":"situ","v":24.5},{"x":0.092,"s":"situ","v":22.6},{"x":0.096,"s":"situ","v":19.1},{"x":0.1,"s":"situ","v":17.6},{"x":0.104,"s":"situ","v":17.3},{"x":0.108,"s":"situ","v":16.3},{"x":0.112,"s":"situ","v":17},{"x":0.116,"s":"situ","v":16.5},
      {"x":0.12,"s":"situ","v":14.7},{"x":0.124,"s":"situ","v":12.5},{"x":0.128,"s":"situ","v":10.8},{"x":0.132,"s":"situ","v":11.5},{"x":0.136,"s":"situ","v":10.5},{"x":0.14,"s":"situ","v":9.1},{"x":0.144,"s":"situ","v":7.9},{"x":0.148,"s":"situ","v":8.6},{"x":0.152,"s":"situ","v":8.3},{"x":0.156,"s":"situ","v":8.6},
      {"x":0.16,"s":"situ","v":8.9},{"x":0.164,"s":"situ","v":9.1},{"x":0.168,"s":"situ","v":9.1},{"x":0.172,"s":"situ","v":9.1},{"x":0.176,"s":"situ","v":7.5},{"x":0.18,"s":"situ","v":7.9},{"x":0.184,"s":"situ","v":7.2},{"x":0.188,"s":"situ","v":8.6},{"x":0.192,"s":"situ","v":6.5},{"x":0.196,"s":"situ","v":6}
    ],
    "j": [
      {"x":0,"s":"lab","v":0},{"x":0.004,"s":"lab","v":-0.04},{"x":0.008,"s":"lab","v":-0.08},{"x":0.012,"s":"lab","v":-0.04},{"x":0.016,"s":"lab","v":0.05},{"x":0.02,"s":"lab","v":0.14},{"x":0.024,"s":"lab","v":0.28},{"x":0.028,"s":"lab","v":0.47},{"x":0.032,"s":"lab","v":0.53},{"x":0.036,"s":"lab","v":0.7},
      {"x":0.04,"s":"lab","v":0.89},{"x":0.044,"s":"lab","v":1.1},{"x":0.048,"s":"lab","v":1.48},{"x":0.052,"s":"lab","v":1.79},{"x":0.056,"s":"lab","v":2.03},{"x":0.06,"s":"lab","v":2.08},{"x":0.064,"s":"lab","v":2.08},{"x":0.068,"s":"lab","v":2.0},{"x":0.072,"s":"lab","v":2.06},{"x":0.076,"s":"lab","v":1.79},
      {"x":0.08,"s":"lab","v":1.72},{"x":0.084,"s":"lab","v":1.7},{"x":0.088,"s":"lab","v":1.67},{"x":0.092,"s":"lab","v":1.78},{"x":0.096,"s":"lab","v":1.82},{"x":0.1,"s":"lab","v":1.79},{"x":0.104,"s":"lab","v":1.78},{"x":0.108,"s":"lab","v":1.82},{"x":0.112,"s":"lab","v":1.88},{"x":0.116,"s":"lab","v":1.94},
      {"x":0.12,"s":"lab","v":2.0},{"x":0.124,"s":"lab","v":2.3},{"x":0.128,"s":"lab","v":2.33},{"x":0.132,"s":"lab","v":2.39},{"x":0.136,"s":"lab","v":2.3},{"x":0.14,"s":"lab","v":2.18},{"x":0.144,"s":"lab","v":2.18},{"x":0.148,"s":"lab","v":2.24},{"x":0.152,"s":"lab","v":2.48},{"x":0.156,"s":"lab","v":2.42},
      {"x":0.16,"s":"lab","v":2.45},{"x":0.164,"s":"lab","v":2.5},{"x":0.168,"s":"lab","v":2.45},{"x":0.172,"s":"lab","v":2.45},{"x":0.176,"s":"lab","v":2.48},{"x":0.18,"s":"lab","v":2.5},{"x":0.184,"s":"lab","v":2.54},{"x":0.188,"s":"lab","v":2.56},{"x":0.192,"s":"lab","v":2.54},{"x":0.196,"s":"lab","v":2.57},{"x":0.203,"s":"lab","v":2.6},
      {"x":0,"s":"situ","v":0},{"x":0.004,"s":"situ","v":-0.4},{"x":0.008,"s":"situ","v":-0.7},{"x":0.012,"s":"situ","v":-1},{"x":0.016,"s":"situ","v":-1.15},{"x":0.02,"s":"situ","v":-1.35},{"x":0.024,"s":"situ","v":-1.45},{"x":0.028,"s":"situ","v":-1.6},{"x":0.032,"s":"situ","v":-1.8},{"x":0.036,"s":"situ","v":-1.9},
      {"x":0.04,"s":"situ","v":-2.1},{"x":0.044,"s":"situ","v":-2.3},{"x":0.048,"s":"situ","v":-2.4},{"x":0.052,"s":"situ","v":-2.6},{"x":0.056,"s":"situ","v":-2.9},{"x":0.06,"s":"situ","v":-3.3},{"x":0.064,"s":"situ","v":-3.5},{"x":0.068,"s":"situ","v":-4.0},{"x":0.072,"s":"situ","v":-4.5},{"x":0.076,"s":"situ","v":-5.3},
      {"x":0.08,"s":"situ","v":-5.9},{"x":0.084,"s":"situ","v":-6.7},{"x":0.088,"s":"situ","v":-7.7},{"x":0.092,"s":"situ","v":-8.6},{"x":0.096,"s":"situ","v":-9.6},{"x":0.1,"s":"situ","v":-10.5},{"x":0.104,"s":"situ","v":-11.5},{"x":0.108,"s":"situ","v":-12.7},{"x":0.112,"s":"situ","v":-13.8},{"x":0.116,"s":"situ","v":-14.9},
      {"x":0.12,"s":"situ","v":-16},{"x":0.124,"s":"situ","v":-17},{"x":0.128,"s":"situ","v":-18.1},{"x":0.132,"s":"situ","v":-19.2},{"x":0.136,"s":"situ","v":-20.3},{"x":0.14,"s":"situ","v":-21.5},{"x":0.144,"s":"situ","v":-22.5},{"x":0.148,"s":"situ","v":-23.7},{"x":0.152,"s":"situ","v":-24.8},{"x":0.156,"s":"situ","v":-26.1},
      {"x":0.16,"s":"situ","v":-27.2},{"x":0.164,"s":"situ","v":-28.3},{"x":0.168,"s":"situ","v":-29.4},{"x":0.172,"s":"situ","v":-30.6},{"x":0.176,"s":"situ","v":-31.6},{"x":0.18,"s":"situ","v":-32.8},{"x":0.184,"s":"situ","v":-33.9},{"x":0.188,"s":"situ","v":-34.9},{"x":0.192,"s":"situ","v":-35.9},{"x":0.196,"s":"situ","v":-36.8}
    ]
  },
  "spacing": 2,
  "resolve": {"scale": {"stroke": "independent", "color": "independent", "fill": "independent", "shape": "independent"}},
  "vconcat": [
    {
      "title": {"text": ["50 kPa", "50 kPa"], "orient": "left", "angle": 0, "anchor": "middle", "align": "left", "baseline": "middle", "offset": 4, "lineHeight": 21, "font": "Liberation Sans", "fontSize": 13, "fontWeight": "normal", "color": "black"},
      "spacing": 12,
      "resolve": {"scale": {"stroke": "independent", "color": "independent", "fill": "independent", "shape": "independent"}},
      "hconcat": [
        {
          "width": 265, "height": 139, "data": {"name": "a"},
          "encoding": {
            "x": {"field": "x", "type": "quantitative", "scale": {"domain": [0, 0.2], "nice": false}, "axis": {"values": [0, 0.05, 0.1, 0.15, 0.2], "labelExpr": "'' + datum.value", "title": "Shear strain"}},
            "y": {"field": "v", "type": "quantitative", "scale": {"domain": [0, 60], "nice": false}, "axis": {"values": [0, 10, 20, 30, 40, 50, 60], "title": "Mobilized friction angle (°)"}}
          },
          "layer": [
            {"mark": {"type": "line", "strokeWidth": 1.3, "clip": true},
             "encoding": {"stroke": {"field": "s", "type": "nominal", "scale": {"domain": ["lab", "situ"], "range": ["#000000", "#4472C4"]},
               "legend": {"orient": "none", "legendX": 101.5, "legendY": 3.7, "title": null, "symbolType": "M-2,0H2", "symbolSize": 100, "symbolStrokeWidth": 1.3, "labelFontStyle": "italic", "labelExpr": "datum.value == 'lab' ? 'laboratory' : 'in-situ DST'",
                 "encode": {"labels": {"update": {"fill": {"signal": "datum.value == 'lab' ? '#000000' : '#2F7FC1'"}, "dx": {"signal": "datum.value == 'situ' ? 73 : 0"}, "dy": {"signal": "datum.value == 'situ' ? 39.8 : 0"}}}}}}}},
            {"transform": [{"filter": "datum.x <= 0.2"}],
             "mark": {"type": "point", "filled": false, "size": 40, "strokeWidth": 1.2, "opacity": 1},
             "encoding": {
               "x": {"field": "x", "type": "quantitative", "scale": {"domain": [0, 0.2], "nice": false}, "axis": {"orient": "top", "domain": false, "ticks": false, "labels": false, "title": "(a)", "titleX": 254, "titleY": 17, "titleAlign": "right", "titleBaseline": "alphabetic", "titleAngle": 0, "titleFontSize": 12}},
               "color": {"field": "s", "type": "nominal", "scale": {"range": ["#FF0000", "#4472C4"]}, "legend": {"orient": "none", "legendX": 101.5, "legendY": 3.7, "title": null, "symbolSize": 40, "symbolStrokeWidth": 1.2, "labelExpr": "datum.value == 'lab' ? '\u200b\u00a0\u00a0\u00a0\u00a0\u00a0\u00a0\u00a0\u00a0\u00a0\u00a0\u00a0\u00a0\u00a0\u00a0\u00a0\u00a0\u00a0DST' : ''"}},
               "fill": {"field": "s", "type": "nominal", "scale": {"range": ["#FFFF00", "#D9E2F3"]}, "legend": {"orient": "none", "legendX": 101.5, "legendY": 3.7, "title": null, "symbolSize": 40, "symbolStrokeWidth": 1.2, "labelExpr": "datum.value == 'lab' ? '\u200b\u00a0\u00a0\u00a0\u00a0\u00a0\u00a0\u00a0\u00a0\u00a0\u00a0\u00a0\u00a0\u00a0\u00a0\u00a0\u00a0\u00a0DST' : ''"}},
               "shape": {"field": "s", "type": "nominal", "scale": {"range": ["square", "circle"]}, "legend": {"orient": "none", "legendX": 101.5, "legendY": 3.7, "title": null, "symbolSize": 40, "symbolStrokeWidth": 1.2, "labelExpr": "datum.value == 'lab' ? '\u200b\u00a0\u00a0\u00a0\u00a0\u00a0\u00a0\u00a0\u00a0\u00a0\u00a0\u00a0\u00a0\u00a0\u00a0\u00a0\u00a0\u00a0DST' : ''"}}
             }}
          ],
          "resolve": {"axis": {"x": "independent"}}
        },
        {
          "width": 236, "height": 139, "data": {"name": "b"},
          "layer": [
            {"transform": [{"filter": "datum.s == 'lab'"}],
             "encoding": {
               "x": {"field": "x", "type": "quantitative", "scale": {"domain": [0, 0.2], "nice": false}, "axis": {"values": [0, 0.05, 0.1, 0.15, 0.2], "labelExpr": "'' + datum.value", "title": "Shear strain"}},
               "y": {"field": "v", "type": "quantitative", "scale": {"domain": [-1, 4], "nice": false}, "axis": {"values": [-1, 0, 1, 2, 3, 4], "labelExpr": "'' + datum.value", "title": "Normal displacement (mm)", "titleFontSize": 11.5, "titlePadding": 7.7}}},
             "layer": [
               {"mark": {"type": "line", "strokeWidth": 1.3, "clip": true},
                "encoding": {"stroke": {"field": "s", "type": "nominal", "scale": {"domain": ["lab", "situ"], "range": ["#000000", "#4472C4"]},
                  "legend": {"orient": "none", "legendX": 74.5, "legendY": 107.7, "title": null, "symbolType": "M-2,0H2", "symbolSize": 100, "symbolStrokeWidth": 1.3, "labelFontStyle": "italic", "labelExpr": "datum.value == 'lab' ? 'laboratory' : ''"}}}},
               {"transform": [{"filter": "datum.x <= 0.2"}],
                "mark": {"type": "point", "filled": false, "size": 40, "strokeWidth": 1.2, "opacity": 1},
                "encoding": {
                  "color": {"field": "s", "type": "nominal", "scale": {"range": ["#FF0000", "#4472C4"]}, "legend": {"orient": "none", "legendX": 74.5, "legendY": 107.7, "title": null, "symbolSize": 40, "symbolStrokeWidth": 1.2, "labelExpr": "datum.value == 'lab' ? '\u200b\u00a0\u00a0\u00a0\u00a0\u00a0\u00a0\u00a0\u00a0\u00a0\u00a0\u00a0\u00a0\u00a0\u00a0\u00a0\u00a0\u00a0DST' : ''"}},
                  "fill": {"field": "s", "type": "nominal", "scale": {"range": ["#FFFF00", "#D9E2F3"]}, "legend": {"orient": "none", "legendX": 74.5, "legendY": 107.7, "title": null, "symbolSize": 40, "symbolStrokeWidth": 1.2, "labelExpr": "datum.value == 'lab' ? '\u200b\u00a0\u00a0\u00a0\u00a0\u00a0\u00a0\u00a0\u00a0\u00a0\u00a0\u00a0\u00a0\u00a0\u00a0\u00a0\u00a0\u00a0DST' : ''"}},
                  "shape": {"field": "s", "type": "nominal", "scale": {"range": ["square", "circle"]}, "legend": {"orient": "none", "legendX": 74.5, "legendY": 107.7, "title": null, "symbolSize": 40, "symbolStrokeWidth": 1.2, "labelExpr": "datum.value == 'lab' ? '\u200b\u00a0\u00a0\u00a0\u00a0\u00a0\u00a0\u00a0\u00a0\u00a0\u00a0\u00a0\u00a0\u00a0\u00a0\u00a0\u00a0\u00a0DST' : ''"}}
                }}
             ]},
            {"transform": [{"filter": "datum.s == 'situ'"}],
             "encoding": {
               "x": {"field": "x", "type": "quantitative", "scale": {"domain": [0, 0.2], "nice": false}, "axis": {"orient": "top", "domain": false, "ticks": false, "labels": false, "title": "(b)", "titleX": 230, "titleY": 17, "titleAlign": "right", "titleBaseline": "alphabetic", "titleAngle": 0, "titleFontSize": 12}},
               "y": {"field": "v", "type": "quantitative", "scale": {"domain": [-1, 4], "nice": false}, "axis": {"orient": "right", "values": [-1, 0, 1, 2, 3, 4], "labelExpr": "'' + datum.value", "title": "Normal displacement (mm)", "titleFontSize": 11.5, "domainColor": "#4472C4", "tickColor": "#4472C4", "labelColor": "#5B9BD5", "titleColor": "#2E86DE", "labelAlign": "center", "labelPadding": 12, "titlePadding": 16}}},
             "layer": [
               {"mark": {"type": "line", "strokeWidth": 1.3, "clip": true},
                "encoding": {"stroke": {"field": "s", "type": "nominal", "scale": {"domain": ["lab", "situ"], "range": ["#000000", "#4472C4"]},
                  "legend": {"orient": "none", "legendX": 74.5, "legendY": 107.7, "title": null, "symbolType": "M-2,0H2", "symbolSize": 100, "symbolStrokeWidth": 1.3, "labelFontStyle": "italic", "labelExpr": "datum.value == 'lab' ? 'laboratory' : ''"}}}},
               {"transform": [{"filter": "datum.x <= 0.2"}],
                "mark": {"type": "point", "filled": false, "size": 40, "strokeWidth": 1.2, "opacity": 1},
                "encoding": {
                  "color": {"field": "s", "type": "nominal", "scale": {"range": ["#FF0000", "#4472C4"]}, "legend": {"orient": "none", "legendX": 74.5, "legendY": 107.7, "title": null, "symbolSize": 40, "symbolStrokeWidth": 1.2, "labelExpr": "datum.value == 'lab' ? '\u200b\u00a0\u00a0\u00a0\u00a0\u00a0\u00a0\u00a0\u00a0\u00a0\u00a0\u00a0\u00a0\u00a0\u00a0\u00a0\u00a0\u00a0DST' : ''"}},
                  "fill": {"field": "s", "type": "nominal", "scale": {"range": ["#FFFF00", "#D9E2F3"]}, "legend": {"orient": "none", "legendX": 74.5, "legendY": 107.7, "title": null, "symbolSize": 40, "symbolStrokeWidth": 1.2, "labelExpr": "datum.value == 'lab' ? '\u200b\u00a0\u00a0\u00a0\u00a0\u00a0\u00a0\u00a0\u00a0\u00a0\u00a0\u00a0\u00a0\u00a0\u00a0\u00a0\u00a0\u00a0DST' : ''"}},
                  "shape": {"field": "s", "type": "nominal", "scale": {"range": ["square", "circle"]}, "legend": {"orient": "none", "legendX": 74.5, "legendY": 107.7, "title": null, "symbolSize": 40, "symbolStrokeWidth": 1.2, "labelExpr": "datum.value == 'lab' ? '\u200b\u00a0\u00a0\u00a0\u00a0\u00a0\u00a0\u00a0\u00a0\u00a0\u00a0\u00a0\u00a0\u00a0\u00a0\u00a0\u00a0\u00a0DST' : ''"}}
                }}
             ]}
          ],
          "resolve": {"scale": {"y": "independent"}, "axis": {"x": "independent"}}
        }
      ]
    },
    {
      "title": {"text": "100 kPa", "orient": "left", "angle": 0, "anchor": "middle", "align": "left", "baseline": "top", "offset": 4, "font": "Liberation Sans", "fontSize": 13, "fontWeight": "normal", "color": "black"},
      "spacing": 12,
      "resolve": {"scale": {"stroke": "independent", "color": "independent", "fill": "independent", "shape": "independent"}},
      "hconcat": [
        {
          "width": 265, "height": 139, "data": {"name": "c"},
          "encoding": {
            "x": {"field": "x", "type": "quantitative", "scale": {"domain": [0, 0.2], "nice": false}, "axis": {"values": [0, 0.05, 0.1, 0.15, 0.2], "labelExpr": "'' + datum.value", "title": "Shear strain"}},
            "y": {"field": "v", "type": "quantitative", "scale": {"domain": [0, 60], "nice": false}, "axis": {"values": [0, 10, 20, 30, 40, 50, 60], "title": "Mobilized friction angle (°)"}}
          },
          "layer": [
            {"mark": {"type": "line", "strokeWidth": 1.3, "clip": true},
             "encoding": {"stroke": {"field": "s", "type": "nominal", "scale": {"domain": ["lab", "situ"], "range": ["#000000", "#4472C4"]},
               "legend": {"orient": "none", "legendX": 99, "legendY": 4.4, "title": null, "symbolType": "M-2,0H2", "symbolSize": 100, "symbolStrokeWidth": 1.3, "labelFontStyle": "italic", "labelExpr": "datum.value == 'lab' ? 'laboratory' : 'in-situ'", "encode": {"labels": {"update": {"fill": {"signal": "datum.value == 'lab' ? '#000000' : '#2F7FC1'"}}}}}}}},
            {"transform": [{"filter": "datum.x <= 0.2"}],
             "mark": {"type": "point", "filled": false, "size": 40, "strokeWidth": 1.2, "opacity": 1},
             "encoding": {
               "x": {"field": "x", "type": "quantitative", "scale": {"domain": [0, 0.2], "nice": false}, "axis": {"orient": "top", "domain": false, "ticks": false, "labels": false, "title": "(c)", "titleX": 259, "titleY": 21, "titleAlign": "right", "titleBaseline": "alphabetic", "titleAngle": 0, "titleFontSize": 12}},
               "color": {"field": "s", "type": "nominal", "scale": {"range": ["#FF0000", "#4472C4"]}, "legend": {"orient": "none", "legendX": 99, "legendY": 4.4, "title": null, "symbolSize": 40, "symbolStrokeWidth": 1.2, "labelColor": {"expr": "datum.value == 'situ' ? '#2F7FC1' : '#000000'"}, "labelExpr": "datum.value == 'lab' ? '\u200b\u00a0\u00a0\u00a0\u00a0\u00a0\u00a0\u00a0\u00a0\u00a0\u00a0\u00a0\u00a0\u00a0\u00a0\u00a0\u00a0\u00a0DST' : '\u200b\u00a0\u00a0\u00a0\u00a0\u00a0\u00a0\u00a0\u00a0\u00a0\u00a0\u00a0DST'"}},
               "fill": {"field": "s", "type": "nominal", "scale": {"range": ["#FFFF00", "#D9E2F3"]}, "legend": {"orient": "none", "legendX": 99, "legendY": 4.4, "title": null, "symbolSize": 40, "symbolStrokeWidth": 1.2, "labelColor": {"expr": "datum.value == 'situ' ? '#2F7FC1' : '#000000'"}, "labelExpr": "datum.value == 'lab' ? '\u200b\u00a0\u00a0\u00a0\u00a0\u00a0\u00a0\u00a0\u00a0\u00a0\u00a0\u00a0\u00a0\u00a0\u00a0\u00a0\u00a0\u00a0DST' : '\u200b\u00a0\u00a0\u00a0\u00a0\u00a0\u00a0\u00a0\u00a0\u00a0\u00a0\u00a0DST'"}},
               "shape": {"field": "s", "type": "nominal", "scale": {"range": ["square", "circle"]}, "legend": {"orient": "none", "legendX": 99, "legendY": 4.4, "title": null, "symbolSize": 40, "symbolStrokeWidth": 1.2, "labelColor": {"expr": "datum.value == 'situ' ? '#2F7FC1' : '#000000'"}, "labelExpr": "datum.value == 'lab' ? '\u200b\u00a0\u00a0\u00a0\u00a0\u00a0\u00a0\u00a0\u00a0\u00a0\u00a0\u00a0\u00a0\u00a0\u00a0\u00a0\u00a0\u00a0DST' : '\u200b\u00a0\u00a0\u00a0\u00a0\u00a0\u00a0\u00a0\u00a0\u00a0\u00a0\u00a0DST'"}}
             }}
          ],
          "resolve": {"axis": {"x": "independent"}}
        },
        {
          "width": 236, "height": 139, "data": {"name": "d"},
          "layer": [
            {"transform": [{"filter": "datum.s == 'lab'"}],
             "encoding": {
               "x": {"field": "x", "type": "quantitative", "scale": {"domain": [0, 0.2], "nice": false}, "axis": {"values": [0, 0.05, 0.1, 0.15, 0.2], "labelExpr": "'' + datum.value", "title": "Shear strain"}},
               "y": {"field": "v", "type": "quantitative", "scale": {"domain": [-1, 4], "nice": false}, "axis": {"values": [-1, 0, 1, 2, 3, 4], "labelExpr": "'' + datum.value", "title": "Normal displacement (mm)", "titleFontSize": 11.5, "titlePadding": 7.7}}},
             "layer": [
               {"mark": {"type": "line", "strokeWidth": 1.3, "clip": true},
                "encoding": {"stroke": {"field": "s", "type": "nominal", "scale": {"domain": ["lab", "situ"], "range": ["#000000", "#4472C4"]},
                  "legend": {"orient": "none", "legendX": 74.5, "legendY": 107.7, "title": null, "symbolType": "M-2,0H2", "symbolSize": 100, "symbolStrokeWidth": 1.3, "labelFontStyle": "italic", "labelExpr": "datum.value == 'lab' ? 'laboratory' : 'in-situ'", "encode": {"labels": {"update": {"fill": {"signal": "datum.value == 'lab' ? '#000000' : '#2F7FC1'"}}}}}}}},
               {"transform": [{"filter": "datum.x <= 0.2"}],
                "mark": {"type": "point", "filled": false, "size": 40, "strokeWidth": 1.2, "opacity": 1},
                "encoding": {
                  "color": {"field": "s", "type": "nominal", "scale": {"range": ["#FF0000", "#4472C4"]}, "legend": {"orient": "none", "legendX": 74.5, "legendY": 107.7, "title": null, "symbolSize": 40, "symbolStrokeWidth": 1.2, "labelColor": {"expr": "datum.value == 'situ' ? '#2F7FC1' : '#000000'"}, "labelExpr": "datum.value == 'lab' ? '\u200b\u00a0\u00a0\u00a0\u00a0\u00a0\u00a0\u00a0\u00a0\u00a0\u00a0\u00a0\u00a0\u00a0\u00a0\u00a0\u00a0\u00a0DST' : '\u200b\u00a0\u00a0\u00a0\u00a0\u00a0\u00a0\u00a0\u00a0\u00a0\u00a0\u00a0DST'"}},
                  "fill": {"field": "s", "type": "nominal", "scale": {"range": ["#FFFF00", "#D9E2F3"]}, "legend": {"orient": "none", "legendX": 74.5, "legendY": 107.7, "title": null, "symbolSize": 40, "symbolStrokeWidth": 1.2, "labelColor": {"expr": "datum.value == 'situ' ? '#2F7FC1' : '#000000'"}, "labelExpr": "datum.value == 'lab' ? '\u200b\u00a0\u00a0\u00a0\u00a0\u00a0\u00a0\u00a0\u00a0\u00a0\u00a0\u00a0\u00a0\u00a0\u00a0\u00a0\u00a0\u00a0DST' : '\u200b\u00a0\u00a0\u00a0\u00a0\u00a0\u00a0\u00a0\u00a0\u00a0\u00a0\u00a0DST'"}},
                  "shape": {"field": "s", "type": "nominal", "scale": {"range": ["square", "circle"]}, "legend": {"orient": "none", "legendX": 74.5, "legendY": 107.7, "title": null, "symbolSize": 40, "symbolStrokeWidth": 1.2, "labelColor": {"expr": "datum.value == 'situ' ? '#2F7FC1' : '#000000'"}, "labelExpr": "datum.value == 'lab' ? '\u200b\u00a0\u00a0\u00a0\u00a0\u00a0\u00a0\u00a0\u00a0\u00a0\u00a0\u00a0\u00a0\u00a0\u00a0\u00a0\u00a0\u00a0DST' : '\u200b\u00a0\u00a0\u00a0\u00a0\u00a0\u00a0\u00a0\u00a0\u00a0\u00a0\u00a0DST'"}}
                }}
             ]},
            {"transform": [{"filter": "datum.s == 'situ'"}],
             "encoding": {
               "x": {"field": "x", "type": "quantitative", "scale": {"domain": [0, 0.2], "nice": false}, "axis": {"orient": "top", "domain": false, "ticks": false, "labels": false, "title": "(d)", "titleX": 228, "titleY": 21, "titleAlign": "right", "titleBaseline": "alphabetic", "titleAngle": 0, "titleFontSize": 12}},
               "y": {"field": "v", "type": "quantitative", "scale": {"domain": [-1, 4], "nice": false}, "axis": {"orient": "right", "values": [-1, 0, 1, 2, 3, 4], "labelExpr": "'' + datum.value", "title": "Normal displacement (mm)", "titleFontSize": 11.5, "domainColor": "#4472C4", "tickColor": "#4472C4", "labelColor": "#5B9BD5", "titleColor": "#2E86DE", "labelAlign": "center", "labelPadding": 12, "titlePadding": 16}}},
             "layer": [
               {"mark": {"type": "line", "strokeWidth": 1.3, "clip": true},
                "encoding": {"stroke": {"field": "s", "type": "nominal", "scale": {"domain": ["lab", "situ"], "range": ["#000000", "#4472C4"]},
                  "legend": {"orient": "none", "legendX": 74.5, "legendY": 107.7, "title": null, "symbolType": "M-2,0H2", "symbolSize": 100, "symbolStrokeWidth": 1.3, "labelFontStyle": "italic", "labelExpr": "datum.value == 'lab' ? 'laboratory' : 'in-situ'", "encode": {"labels": {"update": {"fill": {"signal": "datum.value == 'lab' ? '#000000' : '#2F7FC1'"}}}}}}}},
               {"transform": [{"filter": "datum.x <= 0.2"}],
                "mark": {"type": "point", "filled": false, "size": 40, "strokeWidth": 1.2, "opacity": 1},
                "encoding": {
                  "color": {"field": "s", "type": "nominal", "scale": {"range": ["#FF0000", "#4472C4"]}, "legend": {"orient": "none", "legendX": 74.5, "legendY": 107.7, "title": null, "symbolSize": 40, "symbolStrokeWidth": 1.2, "labelColor": {"expr": "datum.value == 'situ' ? '#2F7FC1' : '#000000'"}, "labelExpr": "datum.value == 'lab' ? '\u200b\u00a0\u00a0\u00a0\u00a0\u00a0\u00a0\u00a0\u00a0\u00a0\u00a0\u00a0\u00a0\u00a0\u00a0\u00a0\u00a0\u00a0DST' : '\u200b\u00a0\u00a0\u00a0\u00a0\u00a0\u00a0\u00a0\u00a0\u00a0\u00a0\u00a0DST'"}},
                  "fill": {"field": "s", "type": "nominal", "scale": {"range": ["#FFFF00", "#D9E2F3"]}, "legend": {"orient": "none", "legendX": 74.5, "legendY": 107.7, "title": null, "symbolSize": 40, "symbolStrokeWidth": 1.2, "labelColor": {"expr": "datum.value == 'situ' ? '#2F7FC1' : '#000000'"}, "labelExpr": "datum.value == 'lab' ? '\u200b\u00a0\u00a0\u00a0\u00a0\u00a0\u00a0\u00a0\u00a0\u00a0\u00a0\u00a0\u00a0\u00a0\u00a0\u00a0\u00a0\u00a0DST' : '\u200b\u00a0\u00a0\u00a0\u00a0\u00a0\u00a0\u00a0\u00a0\u00a0\u00a0\u00a0DST'"}},
                  "shape": {"field": "s", "type": "nominal", "scale": {"range": ["square", "circle"]}, "legend": {"orient": "none", "legendX": 74.5, "legendY": 107.7, "title": null, "symbolSize": 40, "symbolStrokeWidth": 1.2, "labelColor": {"expr": "datum.value == 'situ' ? '#2F7FC1' : '#000000'"}, "labelExpr": "datum.value == 'lab' ? '\u200b\u00a0\u00a0\u00a0\u00a0\u00a0\u00a0\u00a0\u00a0\u00a0\u00a0\u00a0\u00a0\u00a0\u00a0\u00a0\u00a0\u00a0DST' : '\u200b\u00a0\u00a0\u00a0\u00a0\u00a0\u00a0\u00a0\u00a0\u00a0\u00a0\u00a0DST'"}}
                }}
             ]}
          ],
          "resolve": {"scale": {"y": "independent"}, "axis": {"x": "independent"}}
        }
      ]
    },
    {
      "title": {"text": "200 kPa", "orient": "left", "angle": 0, "anchor": "middle", "align": "left", "baseline": "top", "offset": 4, "font": "Liberation Sans", "fontSize": 13, "fontWeight": "normal", "color": "black"},
      "spacing": 12,
      "resolve": {"scale": {"stroke": "independent", "color": "independent", "fill": "independent", "shape": "independent"}},
      "hconcat": [
        {
          "width": 265, "height": 139, "data": {"name": "e"},
          "encoding": {
            "x": {"field": "x", "type": "quantitative", "scale": {"domain": [0, 0.2], "nice": false}, "axis": {"values": [0, 0.05, 0.1, 0.15, 0.2], "labelExpr": "'' + datum.value", "title": "Shear strain"}},
            "y": {"field": "v", "type": "quantitative", "scale": {"domain": [0, 60], "nice": false}, "axis": {"values": [0, 10, 20, 30, 40, 50, 60], "title": "Mobilized friction angle (°)"}}
          },
          "layer": [
            {"mark": {"type": "line", "strokeWidth": 1.3, "clip": true},
             "encoding": {"stroke": {"field": "s", "type": "nominal", "scale": {"domain": ["lab", "situ"], "range": ["#000000", "#4472C4"]},
               "legend": {"orient": "none", "legendX": 87.5, "legendY": 5.4, "title": null, "symbolType": "M-2,0H2", "symbolSize": 100, "symbolStrokeWidth": 1.3, "labelFontStyle": "italic", "labelExpr": "datum.value == 'lab' ? 'laboratory' : 'in-situ'", "encode": {"labels": {"update": {"fill": {"signal": "datum.value == 'lab' ? '#000000' : '#2F7FC1'"}}}}}}}},
            {"transform": [{"filter": "datum.x <= 0.2"}],
             "mark": {"type": "point", "filled": false, "size": 40, "strokeWidth": 1.2, "opacity": 1},
             "encoding": {
               "x": {"field": "x", "type": "quantitative", "scale": {"domain": [0, 0.2], "nice": false}, "axis": {"orient": "top", "domain": false, "ticks": false, "labels": false, "title": "(e)", "titleX": 254, "titleY": 19, "titleAlign": "right", "titleBaseline": "alphabetic", "titleAngle": 0, "titleFontSize": 12}},
               "color": {"field": "s", "type": "nominal", "scale": {"range": ["#FF0000", "#4472C4"]}, "legend": {"orient": "none", "legendX": 87.5, "legendY": 5.4, "title": null, "symbolSize": 40, "symbolStrokeWidth": 1.2, "labelColor": {"expr": "datum.value == 'situ' ? '#2F7FC1' : '#000000'"}, "labelExpr": "datum.value == 'lab' ? '\u200b\u00a0\u00a0\u00a0\u00a0\u00a0\u00a0\u00a0\u00a0\u00a0\u00a0\u00a0\u00a0\u00a0\u00a0\u00a0\u00a0\u00a0DST' : '\u200b\u00a0\u00a0\u00a0\u00a0\u00a0\u00a0\u00a0\u00a0\u00a0\u00a0\u00a0DST'"}},
               "fill": {"field": "s", "type": "nominal", "scale": {"range": ["#FFFF00", "#D9E2F3"]}, "legend": {"orient": "none", "legendX": 87.5, "legendY": 5.4, "title": null, "symbolSize": 40, "symbolStrokeWidth": 1.2, "labelColor": {"expr": "datum.value == 'situ' ? '#2F7FC1' : '#000000'"}, "labelExpr": "datum.value == 'lab' ? '\u200b\u00a0\u00a0\u00a0\u00a0\u00a0\u00a0\u00a0\u00a0\u00a0\u00a0\u00a0\u00a0\u00a0\u00a0\u00a0\u00a0\u00a0DST' : '\u200b\u00a0\u00a0\u00a0\u00a0\u00a0\u00a0\u00a0\u00a0\u00a0\u00a0\u00a0DST'"}},
               "shape": {"field": "s", "type": "nominal", "scale": {"range": ["square", "circle"]}, "legend": {"orient": "none", "legendX": 87.5, "legendY": 5.4, "title": null, "symbolSize": 40, "symbolStrokeWidth": 1.2, "labelColor": {"expr": "datum.value == 'situ' ? '#2F7FC1' : '#000000'"}, "labelExpr": "datum.value == 'lab' ? '\u200b\u00a0\u00a0\u00a0\u00a0\u00a0\u00a0\u00a0\u00a0\u00a0\u00a0\u00a0\u00a0\u00a0\u00a0\u00a0\u00a0\u00a0DST' : '\u200b\u00a0\u00a0\u00a0\u00a0\u00a0\u00a0\u00a0\u00a0\u00a0\u00a0\u00a0DST'"}}
             }}
          ],
          "resolve": {"axis": {"x": "independent"}}
        },
        {
          "width": 236, "height": 139, "data": {"name": "f"},
          "layer": [
            {"transform": [{"filter": "datum.s == 'lab'"}],
             "encoding": {
               "x": {"field": "x", "type": "quantitative", "scale": {"domain": [0, 0.2], "nice": false}, "axis": {"values": [0, 0.05, 0.1, 0.15, 0.2], "labelExpr": "'' + datum.value", "title": "Shear strain"}},
               "y": {"field": "v", "type": "quantitative", "scale": {"domain": [-1, 4], "nice": false}, "axis": {"values": [-1, 0, 1, 2, 3, 4], "labelExpr": "'' + datum.value", "title": "Normal displacement (mm)", "titleFontSize": 11.5, "titlePadding": 7.7}}},
             "layer": [
               {"mark": {"type": "line", "strokeWidth": 1.3, "clip": true},
                "encoding": {"stroke": {"field": "s", "type": "nominal", "scale": {"domain": ["lab", "situ"], "range": ["#000000", "#4472C4"]},
                  "legend": {"orient": "none", "legendX": 74.5, "legendY": 62, "title": null, "symbolType": "M-2,0H2", "symbolSize": 100, "symbolStrokeWidth": 1.3, "labelFontStyle": "italic", "labelExpr": "datum.value == 'lab' ? 'laboratory' : 'in-situ'", "encode": {"labels": {"update": {"fill": {"signal": "datum.value == 'lab' ? '#000000' : '#2F7FC1'"}}}}}}}},
               {"transform": [{"filter": "datum.x <= 0.2"}],
                "mark": {"type": "point", "filled": false, "size": 40, "strokeWidth": 1.2, "opacity": 1},
                "encoding": {
                  "color": {"field": "s", "type": "nominal", "scale": {"range": ["#FF0000", "#4472C4"]}, "legend": {"orient": "none", "legendX": 74.5, "legendY": 62, "title": null, "symbolSize": 40, "symbolStrokeWidth": 1.2, "labelColor": {"expr": "datum.value == 'situ' ? '#2F7FC1' : '#000000'"}, "labelExpr": "datum.value == 'lab' ? '\u200b\u00a0\u00a0\u00a0\u00a0\u00a0\u00a0\u00a0\u00a0\u00a0\u00a0\u00a0\u00a0\u00a0\u00a0\u00a0\u00a0\u00a0DST' : '\u200b\u00a0\u00a0\u00a0\u00a0\u00a0\u00a0\u00a0\u00a0\u00a0\u00a0\u00a0DST'"}},
                  "fill": {"field": "s", "type": "nominal", "scale": {"range": ["#FFFF00", "#D9E2F3"]}, "legend": {"orient": "none", "legendX": 74.5, "legendY": 62, "title": null, "symbolSize": 40, "symbolStrokeWidth": 1.2, "labelColor": {"expr": "datum.value == 'situ' ? '#2F7FC1' : '#000000'"}, "labelExpr": "datum.value == 'lab' ? '\u200b\u00a0\u00a0\u00a0\u00a0\u00a0\u00a0\u00a0\u00a0\u00a0\u00a0\u00a0\u00a0\u00a0\u00a0\u00a0\u00a0\u00a0DST' : '\u200b\u00a0\u00a0\u00a0\u00a0\u00a0\u00a0\u00a0\u00a0\u00a0\u00a0\u00a0DST'"}},
                  "shape": {"field": "s", "type": "nominal", "scale": {"range": ["square", "circle"]}, "legend": {"orient": "none", "legendX": 74.5, "legendY": 62, "title": null, "symbolSize": 40, "symbolStrokeWidth": 1.2, "labelColor": {"expr": "datum.value == 'situ' ? '#2F7FC1' : '#000000'"}, "labelExpr": "datum.value == 'lab' ? '\u200b\u00a0\u00a0\u00a0\u00a0\u00a0\u00a0\u00a0\u00a0\u00a0\u00a0\u00a0\u00a0\u00a0\u00a0\u00a0\u00a0\u00a0DST' : '\u200b\u00a0\u00a0\u00a0\u00a0\u00a0\u00a0\u00a0\u00a0\u00a0\u00a0\u00a0DST'"}}
                }}
             ]},
            {"transform": [{"filter": "datum.s == 'situ'"}],
             "encoding": {
               "x": {"field": "x", "type": "quantitative", "scale": {"domain": [0, 0.2], "nice": false}, "axis": {"orient": "top", "domain": false, "ticks": false, "labels": false, "title": "(f)", "titleX": 225, "titleY": 19, "titleAlign": "right", "titleBaseline": "alphabetic", "titleAngle": 0, "titleFontSize": 12}},
               "y": {"field": "v", "type": "quantitative", "scale": {"domain": [-1, 4], "nice": false}, "axis": {"orient": "right", "values": [-1, 0, 1, 2, 3, 4], "labelExpr": "'' + datum.value", "title": "Normal displacement (mm)", "titleFontSize": 11.5, "domainColor": "#4472C4", "tickColor": "#4472C4", "labelColor": "#5B9BD5", "titleColor": "#2E86DE", "labelAlign": "center", "labelPadding": 12, "titlePadding": 16}}},
             "layer": [
               {"mark": {"type": "line", "strokeWidth": 1.3, "clip": true},
                "encoding": {"stroke": {"field": "s", "type": "nominal", "scale": {"domain": ["lab", "situ"], "range": ["#000000", "#4472C4"]},
                  "legend": {"orient": "none", "legendX": 74.5, "legendY": 62, "title": null, "symbolType": "M-2,0H2", "symbolSize": 100, "symbolStrokeWidth": 1.3, "labelFontStyle": "italic", "labelExpr": "datum.value == 'lab' ? 'laboratory' : 'in-situ'", "encode": {"labels": {"update": {"fill": {"signal": "datum.value == 'lab' ? '#000000' : '#2F7FC1'"}}}}}}}},
               {"transform": [{"filter": "datum.x <= 0.2"}],
                "mark": {"type": "point", "filled": false, "size": 40, "strokeWidth": 1.2, "opacity": 1},
                "encoding": {
                  "color": {"field": "s", "type": "nominal", "scale": {"range": ["#FF0000", "#4472C4"]}, "legend": {"orient": "none", "legendX": 74.5, "legendY": 62, "title": null, "symbolSize": 40, "symbolStrokeWidth": 1.2, "labelColor": {"expr": "datum.value == 'situ' ? '#2F7FC1' : '#000000'"}, "labelExpr": "datum.value == 'lab' ? '\u200b\u00a0\u00a0\u00a0\u00a0\u00a0\u00a0\u00a0\u00a0\u00a0\u00a0\u00a0\u00a0\u00a0\u00a0\u00a0\u00a0\u00a0DST' : '\u200b\u00a0\u00a0\u00a0\u00a0\u00a0\u00a0\u00a0\u00a0\u00a0\u00a0\u00a0DST'"}},
                  "fill": {"field": "s", "type": "nominal", "scale": {"range": ["#FFFF00", "#D9E2F3"]}, "legend": {"orient": "none", "legendX": 74.5, "legendY": 62, "title": null, "symbolSize": 40, "symbolStrokeWidth": 1.2, "labelColor": {"expr": "datum.value == 'situ' ? '#2F7FC1' : '#000000'"}, "labelExpr": "datum.value == 'lab' ? '\u200b\u00a0\u00a0\u00a0\u00a0\u00a0\u00a0\u00a0\u00a0\u00a0\u00a0\u00a0\u00a0\u00a0\u00a0\u00a0\u00a0\u00a0DST' : '\u200b\u00a0\u00a0\u00a0\u00a0\u00a0\u00a0\u00a0\u00a0\u00a0\u00a0\u00a0DST'"}},
                  "shape": {"field": "s", "type": "nominal", "scale": {"range": ["square", "circle"]}, "legend": {"orient": "none", "legendX": 74.5, "legendY": 62, "title": null, "symbolSize": 40, "symbolStrokeWidth": 1.2, "labelColor": {"expr": "datum.value == 'situ' ? '#2F7FC1' : '#000000'"}, "labelExpr": "datum.value == 'lab' ? '\u200b\u00a0\u00a0\u00a0\u00a0\u00a0\u00a0\u00a0\u00a0\u00a0\u00a0\u00a0\u00a0\u00a0\u00a0\u00a0\u00a0\u00a0DST' : '\u200b\u00a0\u00a0\u00a0\u00a0\u00a0\u00a0\u00a0\u00a0\u00a0\u00a0\u00a0DST'"}}
                }}
             ]}
          ],
          "resolve": {"scale": {"y": "independent"}, "axis": {"x": "independent"}}
        }
      ]
    },
    {
      "title": {"text": "300 kPa", "orient": "left", "angle": 0, "anchor": "middle", "align": "left", "baseline": "top", "offset": 4, "font": "Liberation Sans", "fontSize": 13, "fontWeight": "normal", "color": "black"},
      "spacing": 12,
      "resolve": {"scale": {"stroke": "independent", "color": "independent", "fill": "independent", "shape": "independent"}},
      "hconcat": [
        {
          "width": 265, "height": 139, "data": {"name": "g"},
          "encoding": {
            "x": {"field": "x", "type": "quantitative", "scale": {"domain": [0, 0.2], "nice": false}, "axis": {"values": [0, 0.05, 0.1, 0.15, 0.2], "labelExpr": "'' + datum.value", "title": "Shear strain"}},
            "y": {"field": "v", "type": "quantitative", "scale": {"domain": [0, 60], "nice": false}, "axis": {"values": [0, 10, 20, 30, 40, 50, 60], "title": "Mobilized friction angle (°)"}}
          },
          "layer": [
            {"mark": {"type": "line", "strokeWidth": 1.3, "clip": true},
             "encoding": {"stroke": {"field": "s", "type": "nominal", "scale": {"domain": ["lab", "situ"], "range": ["#000000", "#4472C4"]},
               "legend": {"orient": "none", "legendX": 87.5, "legendY": 4, "title": null, "symbolType": "M-2,0H2", "symbolSize": 100, "symbolStrokeWidth": 1.3, "labelFontStyle": "italic", "labelExpr": "datum.value == 'lab' ? 'laboratory' : 'in-situ'", "encode": {"labels": {"update": {"fill": {"signal": "datum.value == 'lab' ? '#000000' : '#2F7FC1'"}}}}}}}},
            {"transform": [{"filter": "datum.x <= 0.2"}],
             "mark": {"type": "point", "filled": false, "size": 40, "strokeWidth": 1.2, "opacity": 1},
             "encoding": {
               "x": {"field": "x", "type": "quantitative", "scale": {"domain": [0, 0.2], "nice": false}, "axis": {"orient": "top", "domain": false, "ticks": false, "labels": false, "title": "(g)", "titleX": 259, "titleY": 17, "titleAlign": "right", "titleBaseline": "alphabetic", "titleAngle": 0, "titleFontSize": 12}},
               "color": {"field": "s", "type": "nominal", "scale": {"range": ["#FF0000", "#4472C4"]}, "legend": {"orient": "none", "legendX": 87.5, "legendY": 4, "title": null, "symbolSize": 40, "symbolStrokeWidth": 1.2, "labelColor": {"expr": "datum.value == 'situ' ? '#2F7FC1' : '#000000'"}, "labelExpr": "datum.value == 'lab' ? '\u200b\u00a0\u00a0\u00a0\u00a0\u00a0\u00a0\u00a0\u00a0\u00a0\u00a0\u00a0\u00a0\u00a0\u00a0\u00a0\u00a0\u00a0DST' : '\u200b\u00a0\u00a0\u00a0\u00a0\u00a0\u00a0\u00a0\u00a0\u00a0\u00a0\u00a0DST'"}},
               "fill": {"field": "s", "type": "nominal", "scale": {"range": ["#FFFF00", "#D9E2F3"]}, "legend": {"orient": "none", "legendX": 87.5, "legendY": 4, "title": null, "symbolSize": 40, "symbolStrokeWidth": 1.2, "labelColor": {"expr": "datum.value == 'situ' ? '#2F7FC1' : '#000000'"}, "labelExpr": "datum.value == 'lab' ? '\u200b\u00a0\u00a0\u00a0\u00a0\u00a0\u00a0\u00a0\u00a0\u00a0\u00a0\u00a0\u00a0\u00a0\u00a0\u00a0\u00a0\u00a0DST' : '\u200b\u00a0\u00a0\u00a0\u00a0\u00a0\u00a0\u00a0\u00a0\u00a0\u00a0\u00a0DST'"}},
               "shape": {"field": "s", "type": "nominal", "scale": {"range": ["square", "circle"]}, "legend": {"orient": "none", "legendX": 87.5, "legendY": 4, "title": null, "symbolSize": 40, "symbolStrokeWidth": 1.2, "labelColor": {"expr": "datum.value == 'situ' ? '#2F7FC1' : '#000000'"}, "labelExpr": "datum.value == 'lab' ? '\u200b\u00a0\u00a0\u00a0\u00a0\u00a0\u00a0\u00a0\u00a0\u00a0\u00a0\u00a0\u00a0\u00a0\u00a0\u00a0\u00a0\u00a0DST' : '\u200b\u00a0\u00a0\u00a0\u00a0\u00a0\u00a0\u00a0\u00a0\u00a0\u00a0\u00a0DST'"}}
             }}
          ],
          "resolve": {"axis": {"x": "independent"}}
        },
        {
          "width": 236, "height": 139, "data": {"name": "h"},
          "layer": [
            {"transform": [{"filter": "datum.s == 'lab'"}],
             "encoding": {
               "x": {"field": "x", "type": "quantitative", "scale": {"domain": [0, 0.2], "nice": false}, "axis": {"values": [0, 0.05, 0.1, 0.15, 0.2], "labelExpr": "'' + datum.value", "title": "Shear strain"}},
               "y": {"field": "v", "type": "quantitative", "scale": {"domain": [-1, 4], "nice": false}, "axis": {"values": [-1, 0, 1, 2, 3, 4], "labelExpr": "'' + datum.value", "title": "Normal displacement (mm)", "titleFontSize": 11.5, "titlePadding": 7.7}}},
             "layer": [
               {"mark": {"type": "line", "strokeWidth": 1.3, "clip": true},
                "encoding": {"stroke": {"field": "s", "type": "nominal", "scale": {"domain": ["lab", "situ"], "range": ["#000000", "#4472C4"]},
                  "legend": {"orient": "none", "legendX": 74.5, "legendY": 103.3, "title": null, "symbolType": "M-2,0H2", "symbolSize": 100, "symbolStrokeWidth": 1.3, "labelFontStyle": "italic", "labelExpr": "datum.value == 'lab' ? 'laboratory' : 'in-situ'", "encode": {"labels": {"update": {"fill": {"signal": "datum.value == 'lab' ? '#000000' : '#2F7FC1'"}}}}}}}},
               {"transform": [{"filter": "datum.x <= 0.2"}],
                "mark": {"type": "point", "filled": false, "size": 40, "strokeWidth": 1.2, "opacity": 1},
                "encoding": {
                  "color": {"field": "s", "type": "nominal", "scale": {"range": ["#FF0000", "#4472C4"]}, "legend": {"orient": "none", "legendX": 74.5, "legendY": 103.3, "title": null, "symbolSize": 40, "symbolStrokeWidth": 1.2, "labelColor": {"expr": "datum.value == 'situ' ? '#2F7FC1' : '#000000'"}, "labelExpr": "datum.value == 'lab' ? '\u200b\u00a0\u00a0\u00a0\u00a0\u00a0\u00a0\u00a0\u00a0\u00a0\u00a0\u00a0\u00a0\u00a0\u00a0\u00a0\u00a0\u00a0DST' : '\u200b\u00a0\u00a0\u00a0\u00a0\u00a0\u00a0\u00a0\u00a0\u00a0\u00a0\u00a0DST'"}},
                  "fill": {"field": "s", "type": "nominal", "scale": {"range": ["#FFFF00", "#D9E2F3"]}, "legend": {"orient": "none", "legendX": 74.5, "legendY": 103.3, "title": null, "symbolSize": 40, "symbolStrokeWidth": 1.2, "labelColor": {"expr": "datum.value == 'situ' ? '#2F7FC1' : '#000000'"}, "labelExpr": "datum.value == 'lab' ? '\u200b\u00a0\u00a0\u00a0\u00a0\u00a0\u00a0\u00a0\u00a0\u00a0\u00a0\u00a0\u00a0\u00a0\u00a0\u00a0\u00a0\u00a0DST' : '\u200b\u00a0\u00a0\u00a0\u00a0\u00a0\u00a0\u00a0\u00a0\u00a0\u00a0\u00a0DST'"}},
                  "shape": {"field": "s", "type": "nominal", "scale": {"range": ["square", "circle"]}, "legend": {"orient": "none", "legendX": 74.5, "legendY": 103.3, "title": null, "symbolSize": 40, "symbolStrokeWidth": 1.2, "labelColor": {"expr": "datum.value == 'situ' ? '#2F7FC1' : '#000000'"}, "labelExpr": "datum.value == 'lab' ? '\u200b\u00a0\u00a0\u00a0\u00a0\u00a0\u00a0\u00a0\u00a0\u00a0\u00a0\u00a0\u00a0\u00a0\u00a0\u00a0\u00a0\u00a0DST' : '\u200b\u00a0\u00a0\u00a0\u00a0\u00a0\u00a0\u00a0\u00a0\u00a0\u00a0\u00a0DST'"}}
                }}
             ]},
            {"transform": [{"filter": "datum.s == 'situ'"}],
             "encoding": {
               "x": {"field": "x", "type": "quantitative", "scale": {"domain": [0, 0.2], "nice": false}, "axis": {"orient": "top", "domain": false, "ticks": false, "labels": false, "title": "(h)", "titleX": 229, "titleY": 16, "titleAlign": "right", "titleBaseline": "alphabetic", "titleAngle": 0, "titleFontSize": 12}},
               "y": {"field": "v", "type": "quantitative", "scale": {"domain": [-30, 0], "nice": false}, "axis": {"orient": "right", "values": [-30, -25, -20, -15, -10, -5, 0], "labelExpr": "'' + datum.value", "title": "Normal displacement (mm)", "titleFontSize": 11.5, "domainColor": "#4472C4", "tickColor": "#4472C4", "labelColor": "#5B9BD5", "titleColor": "#2E86DE", "labelAlign": "center", "labelPadding": 12, "titlePadding": 12}}},
             "layer": [
               {"mark": {"type": "line", "strokeWidth": 1.3, "clip": true},
                "encoding": {"stroke": {"field": "s", "type": "nominal", "scale": {"domain": ["lab", "situ"], "range": ["#000000", "#4472C4"]},
                  "legend": {"orient": "none", "legendX": 74.5, "legendY": 103.3, "title": null, "symbolType": "M-2,0H2", "symbolSize": 100, "symbolStrokeWidth": 1.3, "labelFontStyle": "italic", "labelExpr": "datum.value == 'lab' ? 'laboratory' : 'in-situ'", "encode": {"labels": {"update": {"fill": {"signal": "datum.value == 'lab' ? '#000000' : '#2F7FC1'"}}}}}}}},
               {"transform": [{"filter": "datum.x <= 0.2"}],
                "mark": {"type": "point", "filled": false, "size": 40, "strokeWidth": 1.2, "opacity": 1},
                "encoding": {
                  "color": {"field": "s", "type": "nominal", "scale": {"range": ["#FF0000", "#4472C4"]}, "legend": {"orient": "none", "legendX": 74.5, "legendY": 103.3, "title": null, "symbolSize": 40, "symbolStrokeWidth": 1.2, "labelColor": {"expr": "datum.value == 'situ' ? '#2F7FC1' : '#000000'"}, "labelExpr": "datum.value == 'lab' ? '\u200b\u00a0\u00a0\u00a0\u00a0\u00a0\u00a0\u00a0\u00a0\u00a0\u00a0\u00a0\u00a0\u00a0\u00a0\u00a0\u00a0\u00a0DST' : '\u200b\u00a0\u00a0\u00a0\u00a0\u00a0\u00a0\u00a0\u00a0\u00a0\u00a0\u00a0DST'"}},
                  "fill": {"field": "s", "type": "nominal", "scale": {"range": ["#FFFF00", "#D9E2F3"]}, "legend": {"orient": "none", "legendX": 74.5, "legendY": 103.3, "title": null, "symbolSize": 40, "symbolStrokeWidth": 1.2, "labelColor": {"expr": "datum.value == 'situ' ? '#2F7FC1' : '#000000'"}, "labelExpr": "datum.value == 'lab' ? '\u200b\u00a0\u00a0\u00a0\u00a0\u00a0\u00a0\u00a0\u00a0\u00a0\u00a0\u00a0\u00a0\u00a0\u00a0\u00a0\u00a0\u00a0DST' : '\u200b\u00a0\u00a0\u00a0\u00a0\u00a0\u00a0\u00a0\u00a0\u00a0\u00a0\u00a0DST'"}},
                  "shape": {"field": "s", "type": "nominal", "scale": {"range": ["square", "circle"]}, "legend": {"orient": "none", "legendX": 74.5, "legendY": 103.3, "title": null, "symbolSize": 40, "symbolStrokeWidth": 1.2, "labelColor": {"expr": "datum.value == 'situ' ? '#2F7FC1' : '#000000'"}, "labelExpr": "datum.value == 'lab' ? '\u200b\u00a0\u00a0\u00a0\u00a0\u00a0\u00a0\u00a0\u00a0\u00a0\u00a0\u00a0\u00a0\u00a0\u00a0\u00a0\u00a0\u00a0DST' : '\u200b\u00a0\u00a0\u00a0\u00a0\u00a0\u00a0\u00a0\u00a0\u00a0\u00a0\u00a0DST'"}}
                }}
             ]}
          ],
          "resolve": {"scale": {"y": "independent"}, "axis": {"x": "independent"}}
        }
      ]
    },
    {
      "title": {"text": "400 kPa", "orient": "left", "angle": 0, "anchor": "middle", "align": "left", "baseline": "top", "offset": 4, "font": "Liberation Sans", "fontSize": 13, "fontWeight": "normal", "color": "black"},
      "spacing": 12,
      "resolve": {"scale": {"stroke": "independent", "color": "independent", "fill": "independent", "shape": "independent"}},
      "hconcat": [
        {
          "width": 265, "height": 139, "data": {"name": "i"},
          "encoding": {
            "x": {"field": "x", "type": "quantitative", "scale": {"domain": [0, 0.2], "nice": false}, "axis": {"values": [0, 0.05, 0.1, 0.15, 0.2], "labelExpr": "'' + datum.value", "title": "Shear strain"}},
            "y": {"field": "v", "type": "quantitative", "scale": {"domain": [0, 60], "nice": false}, "axis": {"values": [0, 10, 20, 30, 40, 50, 60], "title": "Mobilized friction angle (°)"}}
          },
          "layer": [
            {"mark": {"type": "line", "strokeWidth": 1.3, "clip": true},
             "encoding": {"stroke": {"field": "s", "type": "nominal", "scale": {"domain": ["lab", "situ"], "range": ["#000000", "#4472C4"]},
               "legend": {"orient": "none", "legendX": 82.5, "legendY": 3, "title": null, "symbolType": "M-2,0H2", "symbolSize": 100, "symbolStrokeWidth": 1.3, "labelFontStyle": "italic", "labelExpr": "datum.value == 'lab' ? 'laboratory' : 'in-situ'", "encode": {"labels": {"update": {"fill": {"signal": "datum.value == 'lab' ? '#000000' : '#2F7FC1'"}}}}}}}},
            {"transform": [{"filter": "datum.x <= 0.2"}],
             "mark": {"type": "point", "filled": false, "size": 40, "strokeWidth": 1.2, "opacity": 1},
             "encoding": {
               "x": {"field": "x", "type": "quantitative", "scale": {"domain": [0, 0.2], "nice": false}, "axis": {"orient": "top", "domain": false, "ticks": false, "labels": false, "title": "(i)", "titleX": 255, "titleY": 17, "titleAlign": "right", "titleBaseline": "alphabetic", "titleAngle": 0, "titleFontSize": 12}},
               "color": {"field": "s", "type": "nominal", "scale": {"range": ["#FF0000", "#4472C4"]}, "legend": {"orient": "none", "legendX": 82.5, "legendY": 3, "title": null, "symbolSize": 40, "symbolStrokeWidth": 1.2, "labelColor": {"expr": "datum.value == 'situ' ? '#2F7FC1' : '#000000'"}, "labelExpr": "datum.value == 'lab' ? '\u200b\u00a0\u00a0\u00a0\u00a0\u00a0\u00a0\u00a0\u00a0\u00a0\u00a0\u00a0\u00a0\u00a0\u00a0\u00a0\u00a0\u00a0DST' : '\u200b\u00a0\u00a0\u00a0\u00a0\u00a0\u00a0\u00a0\u00a0\u00a0\u00a0\u00a0DST'"}},
               "fill": {"field": "s", "type": "nominal", "scale": {"range": ["#FFFF00", "#D9E2F3"]}, "legend": {"orient": "none", "legendX": 82.5, "legendY": 3, "title": null, "symbolSize": 40, "symbolStrokeWidth": 1.2, "labelColor": {"expr": "datum.value == 'situ' ? '#2F7FC1' : '#000000'"}, "labelExpr": "datum.value == 'lab' ? '\u200b\u00a0\u00a0\u00a0\u00a0\u00a0\u00a0\u00a0\u00a0\u00a0\u00a0\u00a0\u00a0\u00a0\u00a0\u00a0\u00a0\u00a0DST' : '\u200b\u00a0\u00a0\u00a0\u00a0\u00a0\u00a0\u00a0\u00a0\u00a0\u00a0\u00a0DST'"}},
               "shape": {"field": "s", "type": "nominal", "scale": {"range": ["square", "circle"]}, "legend": {"orient": "none", "legendX": 82.5, "legendY": 3, "title": null, "symbolSize": 40, "symbolStrokeWidth": 1.2, "labelColor": {"expr": "datum.value == 'situ' ? '#2F7FC1' : '#000000'"}, "labelExpr": "datum.value == 'lab' ? '\u200b\u00a0\u00a0\u00a0\u00a0\u00a0\u00a0\u00a0\u00a0\u00a0\u00a0\u00a0\u00a0\u00a0\u00a0\u00a0\u00a0\u00a0DST' : '\u200b\u00a0\u00a0\u00a0\u00a0\u00a0\u00a0\u00a0\u00a0\u00a0\u00a0\u00a0DST'"}}
             }}
          ],
          "resolve": {"axis": {"x": "independent"}}
        },
        {
          "width": 236, "height": 139, "data": {"name": "j"},
          "layer": [
            {"transform": [{"filter": "datum.s == 'lab'"}],
             "encoding": {
               "x": {"field": "x", "type": "quantitative", "scale": {"domain": [0, 0.2], "nice": false}, "axis": {"values": [0, 0.05, 0.1, 0.15, 0.2], "labelExpr": "'' + datum.value", "title": "Shear strain"}},
               "y": {"field": "v", "type": "quantitative", "scale": {"domain": [-1, 4], "nice": false}, "axis": {"values": [-1, 0, 1, 2, 3, 4], "labelExpr": "'' + datum.value", "title": "Normal displacement (mm)", "titleFontSize": 11.5, "titlePadding": 7.7}}},
             "layer": [
               {"mark": {"type": "line", "strokeWidth": 1.3, "clip": true},
                "encoding": {"stroke": {"field": "s", "type": "nominal", "scale": {"domain": ["lab", "situ"], "range": ["#000000", "#4472C4"]},
                  "legend": {"orient": "none", "legendX": 74.5, "legendY": 101.3, "title": null, "symbolType": "M-2,0H2", "symbolSize": 100, "symbolStrokeWidth": 1.3, "labelFontStyle": "italic", "labelExpr": "datum.value == 'lab' ? 'laboratory' : 'in-situ'", "encode": {"labels": {"update": {"fill": {"signal": "datum.value == 'lab' ? '#000000' : '#2F7FC1'"}}}}}}}},
               {"transform": [{"filter": "datum.x <= 0.2"}],
                "mark": {"type": "point", "filled": false, "size": 40, "strokeWidth": 1.2, "opacity": 1},
                "encoding": {
                  "color": {"field": "s", "type": "nominal", "scale": {"range": ["#FF0000", "#4472C4"]}, "legend": {"orient": "none", "legendX": 74.5, "legendY": 101.3, "title": null, "symbolSize": 40, "symbolStrokeWidth": 1.2, "labelColor": {"expr": "datum.value == 'situ' ? '#2F7FC1' : '#000000'"}, "labelExpr": "datum.value == 'lab' ? '\u200b\u00a0\u00a0\u00a0\u00a0\u00a0\u00a0\u00a0\u00a0\u00a0\u00a0\u00a0\u00a0\u00a0\u00a0\u00a0\u00a0\u00a0DST' : '\u200b\u00a0\u00a0\u00a0\u00a0\u00a0\u00a0\u00a0\u00a0\u00a0\u00a0\u00a0DST'"}},
                  "fill": {"field": "s", "type": "nominal", "scale": {"range": ["#FFFF00", "#D9E2F3"]}, "legend": {"orient": "none", "legendX": 74.5, "legendY": 101.3, "title": null, "symbolSize": 40, "symbolStrokeWidth": 1.2, "labelColor": {"expr": "datum.value == 'situ' ? '#2F7FC1' : '#000000'"}, "labelExpr": "datum.value == 'lab' ? '\u200b\u00a0\u00a0\u00a0\u00a0\u00a0\u00a0\u00a0\u00a0\u00a0\u00a0\u00a0\u00a0\u00a0\u00a0\u00a0\u00a0\u00a0DST' : '\u200b\u00a0\u00a0\u00a0\u00a0\u00a0\u00a0\u00a0\u00a0\u00a0\u00a0\u00a0DST'"}},
                  "shape": {"field": "s", "type": "nominal", "scale": {"range": ["square", "circle"]}, "legend": {"orient": "none", "legendX": 74.5, "legendY": 101.3, "title": null, "symbolSize": 40, "symbolStrokeWidth": 1.2, "labelColor": {"expr": "datum.value == 'situ' ? '#2F7FC1' : '#000000'"}, "labelExpr": "datum.value == 'lab' ? '\u200b\u00a0\u00a0\u00a0\u00a0\u00a0\u00a0\u00a0\u00a0\u00a0\u00a0\u00a0\u00a0\u00a0\u00a0\u00a0\u00a0\u00a0DST' : '\u200b\u00a0\u00a0\u00a0\u00a0\u00a0\u00a0\u00a0\u00a0\u00a0\u00a0\u00a0DST'"}}
                }}
             ]},
            {"transform": [{"filter": "datum.s == 'situ'"}],
             "encoding": {
               "x": {"field": "x", "type": "quantitative", "scale": {"domain": [0, 0.2], "nice": false}, "axis": {"orient": "top", "domain": false, "ticks": false, "labels": false, "title": "(j)", "titleX": 226, "titleY": 17, "titleAlign": "right", "titleBaseline": "alphabetic", "titleAngle": 0, "titleFontSize": 12}},
               "y": {"field": "v", "type": "quantitative", "scale": {"domain": [-40, 0], "nice": false}, "axis": {"orient": "right", "values": [-40, -35, -30, -25, -20, -15, -10, -5, 0], "labelExpr": "'' + datum.value", "title": "Normal displacement (mm)", "titleFontSize": 11.5, "domainColor": "#4472C4", "tickColor": "#4472C4", "labelColor": "#5B9BD5", "titleColor": "#2E86DE", "labelAlign": "center", "labelPadding": 12, "titlePadding": 12}}},
             "layer": [
               {"mark": {"type": "line", "strokeWidth": 1.3, "clip": true},
                "encoding": {"stroke": {"field": "s", "type": "nominal", "scale": {"domain": ["lab", "situ"], "range": ["#000000", "#4472C4"]},
                  "legend": {"orient": "none", "legendX": 74.5, "legendY": 101.3, "title": null, "symbolType": "M-2,0H2", "symbolSize": 100, "symbolStrokeWidth": 1.3, "labelFontStyle": "italic", "labelExpr": "datum.value == 'lab' ? 'laboratory' : 'in-situ'", "encode": {"labels": {"update": {"fill": {"signal": "datum.value == 'lab' ? '#000000' : '#2F7FC1'"}}}}}}}},
               {"transform": [{"filter": "datum.x <= 0.2"}],
                "mark": {"type": "point", "filled": false, "size": 40, "strokeWidth": 1.2, "opacity": 1},
                "encoding": {
                  "color": {"field": "s", "type": "nominal", "scale": {"range": ["#FF0000", "#4472C4"]}, "legend": {"orient": "none", "legendX": 74.5, "legendY": 101.3, "title": null, "symbolSize": 40, "symbolStrokeWidth": 1.2, "labelColor": {"expr": "datum.value == 'situ' ? '#2F7FC1' : '#000000'"}, "labelExpr": "datum.value == 'lab' ? '\u200b\u00a0\u00a0\u00a0\u00a0\u00a0\u00a0\u00a0\u00a0\u00a0\u00a0\u00a0\u00a0\u00a0\u00a0\u00a0\u00a0\u00a0DST' : '\u200b\u00a0\u00a0\u00a0\u00a0\u00a0\u00a0\u00a0\u00a0\u00a0\u00a0\u00a0DST'"}},
                  "fill": {"field": "s", "type": "nominal", "scale": {"range": ["#FFFF00", "#D9E2F3"]}, "legend": {"orient": "none", "legendX": 74.5, "legendY": 101.3, "title": null, "symbolSize": 40, "symbolStrokeWidth": 1.2, "labelColor": {"expr": "datum.value == 'situ' ? '#2F7FC1' : '#000000'"}, "labelExpr": "datum.value == 'lab' ? '\u200b\u00a0\u00a0\u00a0\u00a0\u00a0\u00a0\u00a0\u00a0\u00a0\u00a0\u00a0\u00a0\u00a0\u00a0\u00a0\u00a0\u00a0DST' : '\u200b\u00a0\u00a0\u00a0\u00a0\u00a0\u00a0\u00a0\u00a0\u00a0\u00a0\u00a0DST'"}},
                  "shape": {"field": "s", "type": "nominal", "scale": {"range": ["square", "circle"]}, "legend": {"orient": "none", "legendX": 74.5, "legendY": 101.3, "title": null, "symbolSize": 40, "symbolStrokeWidth": 1.2, "labelColor": {"expr": "datum.value == 'situ' ? '#2F7FC1' : '#000000'"}, "labelExpr": "datum.value == 'lab' ? '\u200b\u00a0\u00a0\u00a0\u00a0\u00a0\u00a0\u00a0\u00a0\u00a0\u00a0\u00a0\u00a0\u00a0\u00a0\u00a0\u00a0\u00a0DST' : '\u200b\u00a0\u00a0\u00a0\u00a0\u00a0\u00a0\u00a0\u00a0\u00a0\u00a0\u00a0DST'"}}
                }}
             ]}
          ],
          "resolve": {"scale": {"y": "independent"}, "axis": {"x": "independent"}}
        }
      ]
    }
  ],
  "config": {
    "view": {"stroke": "#4472C4", "strokeWidth": 1},
    "axis": {"grid": false, "labelFont": "Liberation Serif", "labelFontSize": 14, "labelColor": "#1a1a1a", "titleFont": "Liberation Sans", "titleFontSize": 12, "titleFontWeight": "normal", "titleColor": "#000000", "domainColor": "#000000", "domainWidth": 1.2, "tickColor": "#000000", "tickSize": 4, "labelPadding": 3.5, "titlePadding": 3},
    "axisX": {"labelPadding": 3, "titlePadding": 6},
    "legend": {"padding": 0, "labelFont": "Liberation Sans", "labelFontSize": 12, "labelOffset": 5, "rowPadding": 3.5, "labelColor": "#000000"}
  }
}
